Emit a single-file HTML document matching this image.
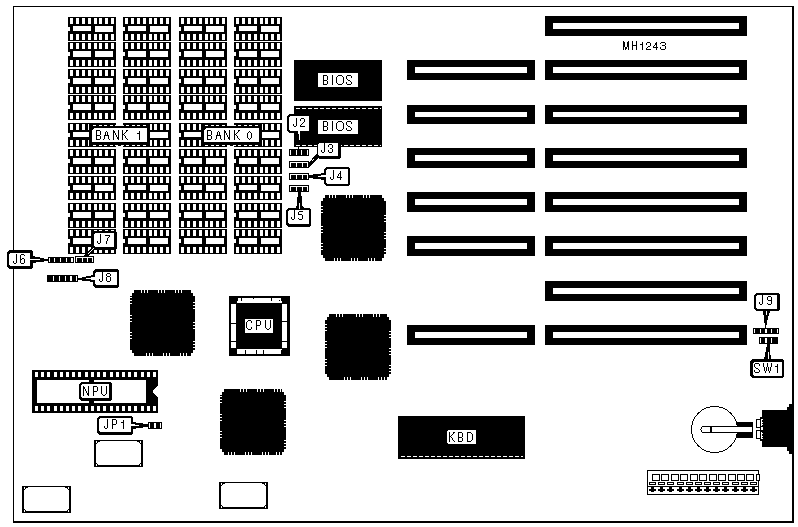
<!DOCTYPE html>
<html><head><meta charset="utf-8"><style>
html,body{margin:0;padding:0;background:#fff;width:798px;height:527px;overflow:hidden}
svg{display:block}
text{font-family:"Liberation Mono",monospace;fill:#000;filter:grayscale(1)}
</style></head><body>
<svg width="798" height="527" viewBox="0 0 798 527" shape-rendering="crispEdges" text-rendering="geometricPrecision">
<rect x="13" y="6" width="1" height="516" fill="#000"/>
<rect x="13" y="6" width="780" height="1" fill="#000"/>
<rect x="792" y="6" width="2" height="517" fill="#000"/>
<rect x="13" y="521" width="781" height="2" fill="#000"/>
<rect x="545" y="16" width="202" height="20" fill="#000"/>
<rect x="553" y="23" width="186" height="6" fill="#fff"/>
<rect x="545" y="60" width="202" height="20" fill="#000"/>
<rect x="553" y="67" width="186" height="6" fill="#fff"/>
<rect x="545" y="105" width="202" height="19" fill="#000"/>
<rect x="553" y="112" width="186" height="5" fill="#fff"/>
<rect x="545" y="148" width="202" height="20" fill="#000"/>
<rect x="553" y="155" width="186" height="6" fill="#fff"/>
<rect x="545" y="192" width="202" height="20" fill="#000"/>
<rect x="553" y="199" width="186" height="6" fill="#fff"/>
<rect x="545" y="236" width="202" height="20" fill="#000"/>
<rect x="553" y="243" width="186" height="6" fill="#fff"/>
<rect x="545" y="281" width="202" height="20" fill="#000"/>
<rect x="553" y="288" width="186" height="6" fill="#fff"/>
<rect x="545" y="325" width="202" height="20" fill="#000"/>
<rect x="553" y="332" width="186" height="6" fill="#fff"/>
<rect x="407" y="60" width="128" height="20" fill="#000"/>
<rect x="415" y="67" width="112" height="6" fill="#fff"/>
<rect x="407" y="105" width="128" height="19" fill="#000"/>
<rect x="415" y="112" width="112" height="5" fill="#fff"/>
<rect x="407" y="148" width="128" height="20" fill="#000"/>
<rect x="415" y="155" width="112" height="6" fill="#fff"/>
<rect x="407" y="192" width="128" height="20" fill="#000"/>
<rect x="415" y="199" width="112" height="6" fill="#fff"/>
<rect x="407" y="236" width="128" height="20" fill="#000"/>
<rect x="415" y="243" width="112" height="6" fill="#fff"/>
<rect x="407" y="325" width="128" height="20" fill="#000"/>
<rect x="415" y="332" width="112" height="6" fill="#fff"/>
<rect x="68" y="17" width="48" height="24" fill="#000"/>
<rect x="70" y="18" width="3" height="6" fill="#fff"/>
<rect x="70" y="34" width="3" height="6" fill="#fff"/>
<rect x="76" y="18" width="3" height="6" fill="#fff"/>
<rect x="76" y="34" width="3" height="6" fill="#fff"/>
<rect x="82" y="18" width="3" height="6" fill="#fff"/>
<rect x="82" y="34" width="3" height="6" fill="#fff"/>
<rect x="88" y="18" width="3" height="6" fill="#fff"/>
<rect x="88" y="34" width="3" height="6" fill="#fff"/>
<rect x="94" y="18" width="3" height="6" fill="#fff"/>
<rect x="94" y="34" width="3" height="6" fill="#fff"/>
<rect x="99" y="18" width="3" height="6" fill="#fff"/>
<rect x="99" y="34" width="3" height="6" fill="#fff"/>
<rect x="105" y="18" width="3" height="6" fill="#fff"/>
<rect x="105" y="34" width="3" height="6" fill="#fff"/>
<rect x="111" y="18" width="3" height="6" fill="#fff"/>
<rect x="111" y="34" width="3" height="6" fill="#fff"/>
<rect x="73" y="26" width="18" height="5" fill="#fff"/>
<rect x="95" y="26" width="18" height="6" fill="#fff"/>
<rect x="68" y="27" width="2" height="4" fill="#fff"/>
<rect x="68" y="42" width="48" height="25" fill="#000"/>
<rect x="70" y="43" width="3" height="6" fill="#fff"/>
<rect x="70" y="60" width="3" height="6" fill="#fff"/>
<rect x="76" y="43" width="3" height="6" fill="#fff"/>
<rect x="76" y="60" width="3" height="6" fill="#fff"/>
<rect x="82" y="43" width="3" height="6" fill="#fff"/>
<rect x="82" y="60" width="3" height="6" fill="#fff"/>
<rect x="88" y="43" width="3" height="6" fill="#fff"/>
<rect x="88" y="60" width="3" height="6" fill="#fff"/>
<rect x="94" y="43" width="3" height="6" fill="#fff"/>
<rect x="94" y="60" width="3" height="6" fill="#fff"/>
<rect x="99" y="43" width="3" height="6" fill="#fff"/>
<rect x="99" y="60" width="3" height="6" fill="#fff"/>
<rect x="105" y="43" width="3" height="6" fill="#fff"/>
<rect x="105" y="60" width="3" height="6" fill="#fff"/>
<rect x="111" y="43" width="3" height="6" fill="#fff"/>
<rect x="111" y="60" width="3" height="6" fill="#fff"/>
<rect x="73" y="51" width="18" height="6" fill="#fff"/>
<rect x="95" y="51" width="18" height="6" fill="#fff"/>
<rect x="68" y="52" width="2" height="4" fill="#fff"/>
<rect x="68" y="69" width="48" height="25" fill="#000"/>
<rect x="70" y="70" width="3" height="6" fill="#fff"/>
<rect x="70" y="87" width="3" height="6" fill="#fff"/>
<rect x="76" y="70" width="3" height="6" fill="#fff"/>
<rect x="76" y="87" width="3" height="6" fill="#fff"/>
<rect x="82" y="70" width="3" height="6" fill="#fff"/>
<rect x="82" y="87" width="3" height="6" fill="#fff"/>
<rect x="88" y="70" width="3" height="6" fill="#fff"/>
<rect x="88" y="87" width="3" height="6" fill="#fff"/>
<rect x="94" y="70" width="3" height="6" fill="#fff"/>
<rect x="94" y="87" width="3" height="6" fill="#fff"/>
<rect x="99" y="70" width="3" height="6" fill="#fff"/>
<rect x="99" y="87" width="3" height="6" fill="#fff"/>
<rect x="105" y="70" width="3" height="6" fill="#fff"/>
<rect x="105" y="87" width="3" height="6" fill="#fff"/>
<rect x="111" y="70" width="3" height="6" fill="#fff"/>
<rect x="111" y="87" width="3" height="6" fill="#fff"/>
<rect x="73" y="78" width="18" height="6" fill="#fff"/>
<rect x="95" y="78" width="18" height="6" fill="#fff"/>
<rect x="68" y="79" width="2" height="4" fill="#fff"/>
<rect x="68" y="95" width="48" height="25" fill="#000"/>
<rect x="70" y="96" width="3" height="6" fill="#fff"/>
<rect x="70" y="113" width="3" height="6" fill="#fff"/>
<rect x="76" y="96" width="3" height="6" fill="#fff"/>
<rect x="76" y="113" width="3" height="6" fill="#fff"/>
<rect x="82" y="96" width="3" height="6" fill="#fff"/>
<rect x="82" y="113" width="3" height="6" fill="#fff"/>
<rect x="88" y="96" width="3" height="6" fill="#fff"/>
<rect x="88" y="113" width="3" height="6" fill="#fff"/>
<rect x="94" y="96" width="3" height="6" fill="#fff"/>
<rect x="94" y="113" width="3" height="6" fill="#fff"/>
<rect x="99" y="96" width="3" height="6" fill="#fff"/>
<rect x="99" y="113" width="3" height="6" fill="#fff"/>
<rect x="105" y="96" width="3" height="6" fill="#fff"/>
<rect x="105" y="113" width="3" height="6" fill="#fff"/>
<rect x="111" y="96" width="3" height="6" fill="#fff"/>
<rect x="111" y="113" width="3" height="6" fill="#fff"/>
<rect x="73" y="104" width="18" height="6" fill="#fff"/>
<rect x="95" y="104" width="18" height="6" fill="#fff"/>
<rect x="68" y="105" width="2" height="4" fill="#fff"/>
<rect x="68" y="123" width="48" height="24" fill="#000"/>
<rect x="70" y="124" width="3" height="6" fill="#fff"/>
<rect x="70" y="140" width="3" height="6" fill="#fff"/>
<rect x="76" y="124" width="3" height="6" fill="#fff"/>
<rect x="76" y="140" width="3" height="6" fill="#fff"/>
<rect x="82" y="124" width="3" height="6" fill="#fff"/>
<rect x="82" y="140" width="3" height="6" fill="#fff"/>
<rect x="88" y="124" width="3" height="6" fill="#fff"/>
<rect x="88" y="140" width="3" height="6" fill="#fff"/>
<rect x="94" y="124" width="3" height="6" fill="#fff"/>
<rect x="94" y="140" width="3" height="6" fill="#fff"/>
<rect x="99" y="124" width="3" height="6" fill="#fff"/>
<rect x="99" y="140" width="3" height="6" fill="#fff"/>
<rect x="105" y="124" width="3" height="6" fill="#fff"/>
<rect x="105" y="140" width="3" height="6" fill="#fff"/>
<rect x="111" y="124" width="3" height="6" fill="#fff"/>
<rect x="111" y="140" width="3" height="6" fill="#fff"/>
<rect x="73" y="132" width="18" height="5" fill="#fff"/>
<rect x="95" y="132" width="18" height="6" fill="#fff"/>
<rect x="68" y="133" width="2" height="4" fill="#fff"/>
<rect x="68" y="149" width="48" height="25" fill="#000"/>
<rect x="70" y="150" width="3" height="6" fill="#fff"/>
<rect x="70" y="167" width="3" height="6" fill="#fff"/>
<rect x="76" y="150" width="3" height="6" fill="#fff"/>
<rect x="76" y="167" width="3" height="6" fill="#fff"/>
<rect x="82" y="150" width="3" height="6" fill="#fff"/>
<rect x="82" y="167" width="3" height="6" fill="#fff"/>
<rect x="88" y="150" width="3" height="6" fill="#fff"/>
<rect x="88" y="167" width="3" height="6" fill="#fff"/>
<rect x="94" y="150" width="3" height="6" fill="#fff"/>
<rect x="94" y="167" width="3" height="6" fill="#fff"/>
<rect x="99" y="150" width="3" height="6" fill="#fff"/>
<rect x="99" y="167" width="3" height="6" fill="#fff"/>
<rect x="105" y="150" width="3" height="6" fill="#fff"/>
<rect x="105" y="167" width="3" height="6" fill="#fff"/>
<rect x="111" y="150" width="3" height="6" fill="#fff"/>
<rect x="111" y="167" width="3" height="6" fill="#fff"/>
<rect x="73" y="158" width="18" height="6" fill="#fff"/>
<rect x="95" y="158" width="18" height="6" fill="#fff"/>
<rect x="68" y="159" width="2" height="4" fill="#fff"/>
<rect x="68" y="176" width="48" height="24" fill="#000"/>
<rect x="70" y="177" width="3" height="6" fill="#fff"/>
<rect x="70" y="193" width="3" height="6" fill="#fff"/>
<rect x="76" y="177" width="3" height="6" fill="#fff"/>
<rect x="76" y="193" width="3" height="6" fill="#fff"/>
<rect x="82" y="177" width="3" height="6" fill="#fff"/>
<rect x="82" y="193" width="3" height="6" fill="#fff"/>
<rect x="88" y="177" width="3" height="6" fill="#fff"/>
<rect x="88" y="193" width="3" height="6" fill="#fff"/>
<rect x="94" y="177" width="3" height="6" fill="#fff"/>
<rect x="94" y="193" width="3" height="6" fill="#fff"/>
<rect x="99" y="177" width="3" height="6" fill="#fff"/>
<rect x="99" y="193" width="3" height="6" fill="#fff"/>
<rect x="105" y="177" width="3" height="6" fill="#fff"/>
<rect x="105" y="193" width="3" height="6" fill="#fff"/>
<rect x="111" y="177" width="3" height="6" fill="#fff"/>
<rect x="111" y="193" width="3" height="6" fill="#fff"/>
<rect x="73" y="185" width="18" height="5" fill="#fff"/>
<rect x="95" y="185" width="18" height="6" fill="#fff"/>
<rect x="68" y="186" width="2" height="4" fill="#fff"/>
<rect x="68" y="203" width="48" height="25" fill="#000"/>
<rect x="70" y="204" width="3" height="6" fill="#fff"/>
<rect x="70" y="221" width="3" height="6" fill="#fff"/>
<rect x="76" y="204" width="3" height="6" fill="#fff"/>
<rect x="76" y="221" width="3" height="6" fill="#fff"/>
<rect x="82" y="204" width="3" height="6" fill="#fff"/>
<rect x="82" y="221" width="3" height="6" fill="#fff"/>
<rect x="88" y="204" width="3" height="6" fill="#fff"/>
<rect x="88" y="221" width="3" height="6" fill="#fff"/>
<rect x="94" y="204" width="3" height="6" fill="#fff"/>
<rect x="94" y="221" width="3" height="6" fill="#fff"/>
<rect x="99" y="204" width="3" height="6" fill="#fff"/>
<rect x="99" y="221" width="3" height="6" fill="#fff"/>
<rect x="105" y="204" width="3" height="6" fill="#fff"/>
<rect x="105" y="221" width="3" height="6" fill="#fff"/>
<rect x="111" y="204" width="3" height="6" fill="#fff"/>
<rect x="111" y="221" width="3" height="6" fill="#fff"/>
<rect x="73" y="212" width="18" height="6" fill="#fff"/>
<rect x="95" y="212" width="18" height="6" fill="#fff"/>
<rect x="68" y="213" width="2" height="4" fill="#fff"/>
<rect x="68" y="229" width="48" height="25" fill="#000"/>
<rect x="70" y="230" width="3" height="6" fill="#fff"/>
<rect x="70" y="247" width="3" height="6" fill="#fff"/>
<rect x="76" y="230" width="3" height="6" fill="#fff"/>
<rect x="76" y="247" width="3" height="6" fill="#fff"/>
<rect x="82" y="230" width="3" height="6" fill="#fff"/>
<rect x="82" y="247" width="3" height="6" fill="#fff"/>
<rect x="88" y="230" width="3" height="6" fill="#fff"/>
<rect x="88" y="247" width="3" height="6" fill="#fff"/>
<rect x="94" y="230" width="3" height="6" fill="#fff"/>
<rect x="94" y="247" width="3" height="6" fill="#fff"/>
<rect x="99" y="230" width="3" height="6" fill="#fff"/>
<rect x="99" y="247" width="3" height="6" fill="#fff"/>
<rect x="105" y="230" width="3" height="6" fill="#fff"/>
<rect x="105" y="247" width="3" height="6" fill="#fff"/>
<rect x="111" y="230" width="3" height="6" fill="#fff"/>
<rect x="111" y="247" width="3" height="6" fill="#fff"/>
<rect x="73" y="238" width="18" height="6" fill="#fff"/>
<rect x="95" y="238" width="18" height="6" fill="#fff"/>
<rect x="68" y="239" width="2" height="4" fill="#fff"/>
<rect x="123" y="17" width="48" height="24" fill="#000"/>
<rect x="125" y="18" width="3" height="6" fill="#fff"/>
<rect x="125" y="34" width="3" height="6" fill="#fff"/>
<rect x="131" y="18" width="3" height="6" fill="#fff"/>
<rect x="131" y="34" width="3" height="6" fill="#fff"/>
<rect x="137" y="18" width="3" height="6" fill="#fff"/>
<rect x="137" y="34" width="3" height="6" fill="#fff"/>
<rect x="143" y="18" width="3" height="6" fill="#fff"/>
<rect x="143" y="34" width="3" height="6" fill="#fff"/>
<rect x="149" y="18" width="3" height="6" fill="#fff"/>
<rect x="149" y="34" width="3" height="6" fill="#fff"/>
<rect x="154" y="18" width="3" height="6" fill="#fff"/>
<rect x="154" y="34" width="3" height="6" fill="#fff"/>
<rect x="160" y="18" width="3" height="6" fill="#fff"/>
<rect x="160" y="34" width="3" height="6" fill="#fff"/>
<rect x="166" y="18" width="3" height="6" fill="#fff"/>
<rect x="166" y="34" width="3" height="6" fill="#fff"/>
<rect x="128" y="26" width="18" height="5" fill="#fff"/>
<rect x="150" y="26" width="18" height="6" fill="#fff"/>
<rect x="123" y="27" width="2" height="4" fill="#fff"/>
<rect x="123" y="42" width="48" height="25" fill="#000"/>
<rect x="125" y="43" width="3" height="6" fill="#fff"/>
<rect x="125" y="60" width="3" height="6" fill="#fff"/>
<rect x="131" y="43" width="3" height="6" fill="#fff"/>
<rect x="131" y="60" width="3" height="6" fill="#fff"/>
<rect x="137" y="43" width="3" height="6" fill="#fff"/>
<rect x="137" y="60" width="3" height="6" fill="#fff"/>
<rect x="143" y="43" width="3" height="6" fill="#fff"/>
<rect x="143" y="60" width="3" height="6" fill="#fff"/>
<rect x="149" y="43" width="3" height="6" fill="#fff"/>
<rect x="149" y="60" width="3" height="6" fill="#fff"/>
<rect x="154" y="43" width="3" height="6" fill="#fff"/>
<rect x="154" y="60" width="3" height="6" fill="#fff"/>
<rect x="160" y="43" width="3" height="6" fill="#fff"/>
<rect x="160" y="60" width="3" height="6" fill="#fff"/>
<rect x="166" y="43" width="3" height="6" fill="#fff"/>
<rect x="166" y="60" width="3" height="6" fill="#fff"/>
<rect x="128" y="51" width="18" height="6" fill="#fff"/>
<rect x="150" y="51" width="18" height="6" fill="#fff"/>
<rect x="123" y="52" width="2" height="4" fill="#fff"/>
<rect x="123" y="69" width="48" height="25" fill="#000"/>
<rect x="125" y="70" width="3" height="6" fill="#fff"/>
<rect x="125" y="87" width="3" height="6" fill="#fff"/>
<rect x="131" y="70" width="3" height="6" fill="#fff"/>
<rect x="131" y="87" width="3" height="6" fill="#fff"/>
<rect x="137" y="70" width="3" height="6" fill="#fff"/>
<rect x="137" y="87" width="3" height="6" fill="#fff"/>
<rect x="143" y="70" width="3" height="6" fill="#fff"/>
<rect x="143" y="87" width="3" height="6" fill="#fff"/>
<rect x="149" y="70" width="3" height="6" fill="#fff"/>
<rect x="149" y="87" width="3" height="6" fill="#fff"/>
<rect x="154" y="70" width="3" height="6" fill="#fff"/>
<rect x="154" y="87" width="3" height="6" fill="#fff"/>
<rect x="160" y="70" width="3" height="6" fill="#fff"/>
<rect x="160" y="87" width="3" height="6" fill="#fff"/>
<rect x="166" y="70" width="3" height="6" fill="#fff"/>
<rect x="166" y="87" width="3" height="6" fill="#fff"/>
<rect x="128" y="78" width="18" height="6" fill="#fff"/>
<rect x="150" y="78" width="18" height="6" fill="#fff"/>
<rect x="123" y="79" width="2" height="4" fill="#fff"/>
<rect x="123" y="95" width="48" height="25" fill="#000"/>
<rect x="125" y="96" width="3" height="6" fill="#fff"/>
<rect x="125" y="113" width="3" height="6" fill="#fff"/>
<rect x="131" y="96" width="3" height="6" fill="#fff"/>
<rect x="131" y="113" width="3" height="6" fill="#fff"/>
<rect x="137" y="96" width="3" height="6" fill="#fff"/>
<rect x="137" y="113" width="3" height="6" fill="#fff"/>
<rect x="143" y="96" width="3" height="6" fill="#fff"/>
<rect x="143" y="113" width="3" height="6" fill="#fff"/>
<rect x="149" y="96" width="3" height="6" fill="#fff"/>
<rect x="149" y="113" width="3" height="6" fill="#fff"/>
<rect x="154" y="96" width="3" height="6" fill="#fff"/>
<rect x="154" y="113" width="3" height="6" fill="#fff"/>
<rect x="160" y="96" width="3" height="6" fill="#fff"/>
<rect x="160" y="113" width="3" height="6" fill="#fff"/>
<rect x="166" y="96" width="3" height="6" fill="#fff"/>
<rect x="166" y="113" width="3" height="6" fill="#fff"/>
<rect x="128" y="104" width="18" height="6" fill="#fff"/>
<rect x="150" y="104" width="18" height="6" fill="#fff"/>
<rect x="123" y="105" width="2" height="4" fill="#fff"/>
<rect x="123" y="123" width="48" height="24" fill="#000"/>
<rect x="125" y="124" width="3" height="6" fill="#fff"/>
<rect x="125" y="140" width="3" height="6" fill="#fff"/>
<rect x="131" y="124" width="3" height="6" fill="#fff"/>
<rect x="131" y="140" width="3" height="6" fill="#fff"/>
<rect x="137" y="124" width="3" height="6" fill="#fff"/>
<rect x="137" y="140" width="3" height="6" fill="#fff"/>
<rect x="143" y="124" width="3" height="6" fill="#fff"/>
<rect x="143" y="140" width="3" height="6" fill="#fff"/>
<rect x="149" y="124" width="3" height="6" fill="#fff"/>
<rect x="149" y="140" width="3" height="6" fill="#fff"/>
<rect x="154" y="124" width="3" height="6" fill="#fff"/>
<rect x="154" y="140" width="3" height="6" fill="#fff"/>
<rect x="160" y="124" width="3" height="6" fill="#fff"/>
<rect x="160" y="140" width="3" height="6" fill="#fff"/>
<rect x="166" y="124" width="3" height="6" fill="#fff"/>
<rect x="166" y="140" width="3" height="6" fill="#fff"/>
<rect x="128" y="132" width="18" height="5" fill="#fff"/>
<rect x="150" y="132" width="18" height="6" fill="#fff"/>
<rect x="123" y="133" width="2" height="4" fill="#fff"/>
<rect x="123" y="149" width="48" height="25" fill="#000"/>
<rect x="125" y="150" width="3" height="6" fill="#fff"/>
<rect x="125" y="167" width="3" height="6" fill="#fff"/>
<rect x="131" y="150" width="3" height="6" fill="#fff"/>
<rect x="131" y="167" width="3" height="6" fill="#fff"/>
<rect x="137" y="150" width="3" height="6" fill="#fff"/>
<rect x="137" y="167" width="3" height="6" fill="#fff"/>
<rect x="143" y="150" width="3" height="6" fill="#fff"/>
<rect x="143" y="167" width="3" height="6" fill="#fff"/>
<rect x="149" y="150" width="3" height="6" fill="#fff"/>
<rect x="149" y="167" width="3" height="6" fill="#fff"/>
<rect x="154" y="150" width="3" height="6" fill="#fff"/>
<rect x="154" y="167" width="3" height="6" fill="#fff"/>
<rect x="160" y="150" width="3" height="6" fill="#fff"/>
<rect x="160" y="167" width="3" height="6" fill="#fff"/>
<rect x="166" y="150" width="3" height="6" fill="#fff"/>
<rect x="166" y="167" width="3" height="6" fill="#fff"/>
<rect x="128" y="158" width="18" height="6" fill="#fff"/>
<rect x="150" y="158" width="18" height="6" fill="#fff"/>
<rect x="123" y="159" width="2" height="4" fill="#fff"/>
<rect x="123" y="176" width="48" height="24" fill="#000"/>
<rect x="125" y="177" width="3" height="6" fill="#fff"/>
<rect x="125" y="193" width="3" height="6" fill="#fff"/>
<rect x="131" y="177" width="3" height="6" fill="#fff"/>
<rect x="131" y="193" width="3" height="6" fill="#fff"/>
<rect x="137" y="177" width="3" height="6" fill="#fff"/>
<rect x="137" y="193" width="3" height="6" fill="#fff"/>
<rect x="143" y="177" width="3" height="6" fill="#fff"/>
<rect x="143" y="193" width="3" height="6" fill="#fff"/>
<rect x="149" y="177" width="3" height="6" fill="#fff"/>
<rect x="149" y="193" width="3" height="6" fill="#fff"/>
<rect x="154" y="177" width="3" height="6" fill="#fff"/>
<rect x="154" y="193" width="3" height="6" fill="#fff"/>
<rect x="160" y="177" width="3" height="6" fill="#fff"/>
<rect x="160" y="193" width="3" height="6" fill="#fff"/>
<rect x="166" y="177" width="3" height="6" fill="#fff"/>
<rect x="166" y="193" width="3" height="6" fill="#fff"/>
<rect x="128" y="185" width="18" height="5" fill="#fff"/>
<rect x="150" y="185" width="18" height="6" fill="#fff"/>
<rect x="123" y="186" width="2" height="4" fill="#fff"/>
<rect x="123" y="203" width="48" height="25" fill="#000"/>
<rect x="125" y="204" width="3" height="6" fill="#fff"/>
<rect x="125" y="221" width="3" height="6" fill="#fff"/>
<rect x="131" y="204" width="3" height="6" fill="#fff"/>
<rect x="131" y="221" width="3" height="6" fill="#fff"/>
<rect x="137" y="204" width="3" height="6" fill="#fff"/>
<rect x="137" y="221" width="3" height="6" fill="#fff"/>
<rect x="143" y="204" width="3" height="6" fill="#fff"/>
<rect x="143" y="221" width="3" height="6" fill="#fff"/>
<rect x="149" y="204" width="3" height="6" fill="#fff"/>
<rect x="149" y="221" width="3" height="6" fill="#fff"/>
<rect x="154" y="204" width="3" height="6" fill="#fff"/>
<rect x="154" y="221" width="3" height="6" fill="#fff"/>
<rect x="160" y="204" width="3" height="6" fill="#fff"/>
<rect x="160" y="221" width="3" height="6" fill="#fff"/>
<rect x="166" y="204" width="3" height="6" fill="#fff"/>
<rect x="166" y="221" width="3" height="6" fill="#fff"/>
<rect x="128" y="212" width="18" height="6" fill="#fff"/>
<rect x="150" y="212" width="18" height="6" fill="#fff"/>
<rect x="123" y="213" width="2" height="4" fill="#fff"/>
<rect x="123" y="229" width="48" height="25" fill="#000"/>
<rect x="125" y="230" width="3" height="6" fill="#fff"/>
<rect x="125" y="247" width="3" height="6" fill="#fff"/>
<rect x="131" y="230" width="3" height="6" fill="#fff"/>
<rect x="131" y="247" width="3" height="6" fill="#fff"/>
<rect x="137" y="230" width="3" height="6" fill="#fff"/>
<rect x="137" y="247" width="3" height="6" fill="#fff"/>
<rect x="143" y="230" width="3" height="6" fill="#fff"/>
<rect x="143" y="247" width="3" height="6" fill="#fff"/>
<rect x="149" y="230" width="3" height="6" fill="#fff"/>
<rect x="149" y="247" width="3" height="6" fill="#fff"/>
<rect x="154" y="230" width="3" height="6" fill="#fff"/>
<rect x="154" y="247" width="3" height="6" fill="#fff"/>
<rect x="160" y="230" width="3" height="6" fill="#fff"/>
<rect x="160" y="247" width="3" height="6" fill="#fff"/>
<rect x="166" y="230" width="3" height="6" fill="#fff"/>
<rect x="166" y="247" width="3" height="6" fill="#fff"/>
<rect x="128" y="238" width="18" height="6" fill="#fff"/>
<rect x="150" y="238" width="18" height="6" fill="#fff"/>
<rect x="123" y="239" width="2" height="4" fill="#fff"/>
<rect x="179" y="17" width="48" height="24" fill="#000"/>
<rect x="181" y="18" width="3" height="6" fill="#fff"/>
<rect x="181" y="34" width="3" height="6" fill="#fff"/>
<rect x="187" y="18" width="3" height="6" fill="#fff"/>
<rect x="187" y="34" width="3" height="6" fill="#fff"/>
<rect x="193" y="18" width="3" height="6" fill="#fff"/>
<rect x="193" y="34" width="3" height="6" fill="#fff"/>
<rect x="199" y="18" width="3" height="6" fill="#fff"/>
<rect x="199" y="34" width="3" height="6" fill="#fff"/>
<rect x="205" y="18" width="3" height="6" fill="#fff"/>
<rect x="205" y="34" width="3" height="6" fill="#fff"/>
<rect x="210" y="18" width="3" height="6" fill="#fff"/>
<rect x="210" y="34" width="3" height="6" fill="#fff"/>
<rect x="216" y="18" width="3" height="6" fill="#fff"/>
<rect x="216" y="34" width="3" height="6" fill="#fff"/>
<rect x="222" y="18" width="3" height="6" fill="#fff"/>
<rect x="222" y="34" width="3" height="6" fill="#fff"/>
<rect x="184" y="26" width="18" height="5" fill="#fff"/>
<rect x="206" y="26" width="18" height="6" fill="#fff"/>
<rect x="179" y="27" width="2" height="4" fill="#fff"/>
<rect x="179" y="42" width="48" height="25" fill="#000"/>
<rect x="181" y="43" width="3" height="6" fill="#fff"/>
<rect x="181" y="60" width="3" height="6" fill="#fff"/>
<rect x="187" y="43" width="3" height="6" fill="#fff"/>
<rect x="187" y="60" width="3" height="6" fill="#fff"/>
<rect x="193" y="43" width="3" height="6" fill="#fff"/>
<rect x="193" y="60" width="3" height="6" fill="#fff"/>
<rect x="199" y="43" width="3" height="6" fill="#fff"/>
<rect x="199" y="60" width="3" height="6" fill="#fff"/>
<rect x="205" y="43" width="3" height="6" fill="#fff"/>
<rect x="205" y="60" width="3" height="6" fill="#fff"/>
<rect x="210" y="43" width="3" height="6" fill="#fff"/>
<rect x="210" y="60" width="3" height="6" fill="#fff"/>
<rect x="216" y="43" width="3" height="6" fill="#fff"/>
<rect x="216" y="60" width="3" height="6" fill="#fff"/>
<rect x="222" y="43" width="3" height="6" fill="#fff"/>
<rect x="222" y="60" width="3" height="6" fill="#fff"/>
<rect x="184" y="51" width="18" height="6" fill="#fff"/>
<rect x="206" y="51" width="18" height="6" fill="#fff"/>
<rect x="179" y="52" width="2" height="4" fill="#fff"/>
<rect x="179" y="69" width="48" height="25" fill="#000"/>
<rect x="181" y="70" width="3" height="6" fill="#fff"/>
<rect x="181" y="87" width="3" height="6" fill="#fff"/>
<rect x="187" y="70" width="3" height="6" fill="#fff"/>
<rect x="187" y="87" width="3" height="6" fill="#fff"/>
<rect x="193" y="70" width="3" height="6" fill="#fff"/>
<rect x="193" y="87" width="3" height="6" fill="#fff"/>
<rect x="199" y="70" width="3" height="6" fill="#fff"/>
<rect x="199" y="87" width="3" height="6" fill="#fff"/>
<rect x="205" y="70" width="3" height="6" fill="#fff"/>
<rect x="205" y="87" width="3" height="6" fill="#fff"/>
<rect x="210" y="70" width="3" height="6" fill="#fff"/>
<rect x="210" y="87" width="3" height="6" fill="#fff"/>
<rect x="216" y="70" width="3" height="6" fill="#fff"/>
<rect x="216" y="87" width="3" height="6" fill="#fff"/>
<rect x="222" y="70" width="3" height="6" fill="#fff"/>
<rect x="222" y="87" width="3" height="6" fill="#fff"/>
<rect x="184" y="78" width="18" height="6" fill="#fff"/>
<rect x="206" y="78" width="18" height="6" fill="#fff"/>
<rect x="179" y="79" width="2" height="4" fill="#fff"/>
<rect x="179" y="95" width="48" height="25" fill="#000"/>
<rect x="181" y="96" width="3" height="6" fill="#fff"/>
<rect x="181" y="113" width="3" height="6" fill="#fff"/>
<rect x="187" y="96" width="3" height="6" fill="#fff"/>
<rect x="187" y="113" width="3" height="6" fill="#fff"/>
<rect x="193" y="96" width="3" height="6" fill="#fff"/>
<rect x="193" y="113" width="3" height="6" fill="#fff"/>
<rect x="199" y="96" width="3" height="6" fill="#fff"/>
<rect x="199" y="113" width="3" height="6" fill="#fff"/>
<rect x="205" y="96" width="3" height="6" fill="#fff"/>
<rect x="205" y="113" width="3" height="6" fill="#fff"/>
<rect x="210" y="96" width="3" height="6" fill="#fff"/>
<rect x="210" y="113" width="3" height="6" fill="#fff"/>
<rect x="216" y="96" width="3" height="6" fill="#fff"/>
<rect x="216" y="113" width="3" height="6" fill="#fff"/>
<rect x="222" y="96" width="3" height="6" fill="#fff"/>
<rect x="222" y="113" width="3" height="6" fill="#fff"/>
<rect x="184" y="104" width="18" height="6" fill="#fff"/>
<rect x="206" y="104" width="18" height="6" fill="#fff"/>
<rect x="179" y="105" width="2" height="4" fill="#fff"/>
<rect x="179" y="123" width="48" height="24" fill="#000"/>
<rect x="181" y="124" width="3" height="6" fill="#fff"/>
<rect x="181" y="140" width="3" height="6" fill="#fff"/>
<rect x="187" y="124" width="3" height="6" fill="#fff"/>
<rect x="187" y="140" width="3" height="6" fill="#fff"/>
<rect x="193" y="124" width="3" height="6" fill="#fff"/>
<rect x="193" y="140" width="3" height="6" fill="#fff"/>
<rect x="199" y="124" width="3" height="6" fill="#fff"/>
<rect x="199" y="140" width="3" height="6" fill="#fff"/>
<rect x="205" y="124" width="3" height="6" fill="#fff"/>
<rect x="205" y="140" width="3" height="6" fill="#fff"/>
<rect x="210" y="124" width="3" height="6" fill="#fff"/>
<rect x="210" y="140" width="3" height="6" fill="#fff"/>
<rect x="216" y="124" width="3" height="6" fill="#fff"/>
<rect x="216" y="140" width="3" height="6" fill="#fff"/>
<rect x="222" y="124" width="3" height="6" fill="#fff"/>
<rect x="222" y="140" width="3" height="6" fill="#fff"/>
<rect x="184" y="132" width="18" height="5" fill="#fff"/>
<rect x="206" y="132" width="18" height="6" fill="#fff"/>
<rect x="179" y="133" width="2" height="4" fill="#fff"/>
<rect x="179" y="149" width="48" height="25" fill="#000"/>
<rect x="181" y="150" width="3" height="6" fill="#fff"/>
<rect x="181" y="167" width="3" height="6" fill="#fff"/>
<rect x="187" y="150" width="3" height="6" fill="#fff"/>
<rect x="187" y="167" width="3" height="6" fill="#fff"/>
<rect x="193" y="150" width="3" height="6" fill="#fff"/>
<rect x="193" y="167" width="3" height="6" fill="#fff"/>
<rect x="199" y="150" width="3" height="6" fill="#fff"/>
<rect x="199" y="167" width="3" height="6" fill="#fff"/>
<rect x="205" y="150" width="3" height="6" fill="#fff"/>
<rect x="205" y="167" width="3" height="6" fill="#fff"/>
<rect x="210" y="150" width="3" height="6" fill="#fff"/>
<rect x="210" y="167" width="3" height="6" fill="#fff"/>
<rect x="216" y="150" width="3" height="6" fill="#fff"/>
<rect x="216" y="167" width="3" height="6" fill="#fff"/>
<rect x="222" y="150" width="3" height="6" fill="#fff"/>
<rect x="222" y="167" width="3" height="6" fill="#fff"/>
<rect x="184" y="158" width="18" height="6" fill="#fff"/>
<rect x="206" y="158" width="18" height="6" fill="#fff"/>
<rect x="179" y="159" width="2" height="4" fill="#fff"/>
<rect x="179" y="176" width="48" height="24" fill="#000"/>
<rect x="181" y="177" width="3" height="6" fill="#fff"/>
<rect x="181" y="193" width="3" height="6" fill="#fff"/>
<rect x="187" y="177" width="3" height="6" fill="#fff"/>
<rect x="187" y="193" width="3" height="6" fill="#fff"/>
<rect x="193" y="177" width="3" height="6" fill="#fff"/>
<rect x="193" y="193" width="3" height="6" fill="#fff"/>
<rect x="199" y="177" width="3" height="6" fill="#fff"/>
<rect x="199" y="193" width="3" height="6" fill="#fff"/>
<rect x="205" y="177" width="3" height="6" fill="#fff"/>
<rect x="205" y="193" width="3" height="6" fill="#fff"/>
<rect x="210" y="177" width="3" height="6" fill="#fff"/>
<rect x="210" y="193" width="3" height="6" fill="#fff"/>
<rect x="216" y="177" width="3" height="6" fill="#fff"/>
<rect x="216" y="193" width="3" height="6" fill="#fff"/>
<rect x="222" y="177" width="3" height="6" fill="#fff"/>
<rect x="222" y="193" width="3" height="6" fill="#fff"/>
<rect x="184" y="185" width="18" height="5" fill="#fff"/>
<rect x="206" y="185" width="18" height="6" fill="#fff"/>
<rect x="179" y="186" width="2" height="4" fill="#fff"/>
<rect x="179" y="203" width="48" height="25" fill="#000"/>
<rect x="181" y="204" width="3" height="6" fill="#fff"/>
<rect x="181" y="221" width="3" height="6" fill="#fff"/>
<rect x="187" y="204" width="3" height="6" fill="#fff"/>
<rect x="187" y="221" width="3" height="6" fill="#fff"/>
<rect x="193" y="204" width="3" height="6" fill="#fff"/>
<rect x="193" y="221" width="3" height="6" fill="#fff"/>
<rect x="199" y="204" width="3" height="6" fill="#fff"/>
<rect x="199" y="221" width="3" height="6" fill="#fff"/>
<rect x="205" y="204" width="3" height="6" fill="#fff"/>
<rect x="205" y="221" width="3" height="6" fill="#fff"/>
<rect x="210" y="204" width="3" height="6" fill="#fff"/>
<rect x="210" y="221" width="3" height="6" fill="#fff"/>
<rect x="216" y="204" width="3" height="6" fill="#fff"/>
<rect x="216" y="221" width="3" height="6" fill="#fff"/>
<rect x="222" y="204" width="3" height="6" fill="#fff"/>
<rect x="222" y="221" width="3" height="6" fill="#fff"/>
<rect x="184" y="212" width="18" height="6" fill="#fff"/>
<rect x="206" y="212" width="18" height="6" fill="#fff"/>
<rect x="179" y="213" width="2" height="4" fill="#fff"/>
<rect x="179" y="229" width="48" height="25" fill="#000"/>
<rect x="181" y="230" width="3" height="6" fill="#fff"/>
<rect x="181" y="247" width="3" height="6" fill="#fff"/>
<rect x="187" y="230" width="3" height="6" fill="#fff"/>
<rect x="187" y="247" width="3" height="6" fill="#fff"/>
<rect x="193" y="230" width="3" height="6" fill="#fff"/>
<rect x="193" y="247" width="3" height="6" fill="#fff"/>
<rect x="199" y="230" width="3" height="6" fill="#fff"/>
<rect x="199" y="247" width="3" height="6" fill="#fff"/>
<rect x="205" y="230" width="3" height="6" fill="#fff"/>
<rect x="205" y="247" width="3" height="6" fill="#fff"/>
<rect x="210" y="230" width="3" height="6" fill="#fff"/>
<rect x="210" y="247" width="3" height="6" fill="#fff"/>
<rect x="216" y="230" width="3" height="6" fill="#fff"/>
<rect x="216" y="247" width="3" height="6" fill="#fff"/>
<rect x="222" y="230" width="3" height="6" fill="#fff"/>
<rect x="222" y="247" width="3" height="6" fill="#fff"/>
<rect x="184" y="238" width="18" height="6" fill="#fff"/>
<rect x="206" y="238" width="18" height="6" fill="#fff"/>
<rect x="179" y="239" width="2" height="4" fill="#fff"/>
<rect x="234" y="17" width="48" height="24" fill="#000"/>
<rect x="236" y="18" width="3" height="6" fill="#fff"/>
<rect x="236" y="34" width="3" height="6" fill="#fff"/>
<rect x="242" y="18" width="3" height="6" fill="#fff"/>
<rect x="242" y="34" width="3" height="6" fill="#fff"/>
<rect x="248" y="18" width="3" height="6" fill="#fff"/>
<rect x="248" y="34" width="3" height="6" fill="#fff"/>
<rect x="254" y="18" width="3" height="6" fill="#fff"/>
<rect x="254" y="34" width="3" height="6" fill="#fff"/>
<rect x="260" y="18" width="3" height="6" fill="#fff"/>
<rect x="260" y="34" width="3" height="6" fill="#fff"/>
<rect x="265" y="18" width="3" height="6" fill="#fff"/>
<rect x="265" y="34" width="3" height="6" fill="#fff"/>
<rect x="271" y="18" width="3" height="6" fill="#fff"/>
<rect x="271" y="34" width="3" height="6" fill="#fff"/>
<rect x="277" y="18" width="3" height="6" fill="#fff"/>
<rect x="277" y="34" width="3" height="6" fill="#fff"/>
<rect x="239" y="26" width="18" height="5" fill="#fff"/>
<rect x="261" y="26" width="18" height="6" fill="#fff"/>
<rect x="234" y="27" width="2" height="4" fill="#fff"/>
<rect x="234" y="42" width="48" height="25" fill="#000"/>
<rect x="236" y="43" width="3" height="6" fill="#fff"/>
<rect x="236" y="60" width="3" height="6" fill="#fff"/>
<rect x="242" y="43" width="3" height="6" fill="#fff"/>
<rect x="242" y="60" width="3" height="6" fill="#fff"/>
<rect x="248" y="43" width="3" height="6" fill="#fff"/>
<rect x="248" y="60" width="3" height="6" fill="#fff"/>
<rect x="254" y="43" width="3" height="6" fill="#fff"/>
<rect x="254" y="60" width="3" height="6" fill="#fff"/>
<rect x="260" y="43" width="3" height="6" fill="#fff"/>
<rect x="260" y="60" width="3" height="6" fill="#fff"/>
<rect x="265" y="43" width="3" height="6" fill="#fff"/>
<rect x="265" y="60" width="3" height="6" fill="#fff"/>
<rect x="271" y="43" width="3" height="6" fill="#fff"/>
<rect x="271" y="60" width="3" height="6" fill="#fff"/>
<rect x="277" y="43" width="3" height="6" fill="#fff"/>
<rect x="277" y="60" width="3" height="6" fill="#fff"/>
<rect x="239" y="51" width="18" height="6" fill="#fff"/>
<rect x="261" y="51" width="18" height="6" fill="#fff"/>
<rect x="234" y="52" width="2" height="4" fill="#fff"/>
<rect x="234" y="69" width="48" height="25" fill="#000"/>
<rect x="236" y="70" width="3" height="6" fill="#fff"/>
<rect x="236" y="87" width="3" height="6" fill="#fff"/>
<rect x="242" y="70" width="3" height="6" fill="#fff"/>
<rect x="242" y="87" width="3" height="6" fill="#fff"/>
<rect x="248" y="70" width="3" height="6" fill="#fff"/>
<rect x="248" y="87" width="3" height="6" fill="#fff"/>
<rect x="254" y="70" width="3" height="6" fill="#fff"/>
<rect x="254" y="87" width="3" height="6" fill="#fff"/>
<rect x="260" y="70" width="3" height="6" fill="#fff"/>
<rect x="260" y="87" width="3" height="6" fill="#fff"/>
<rect x="265" y="70" width="3" height="6" fill="#fff"/>
<rect x="265" y="87" width="3" height="6" fill="#fff"/>
<rect x="271" y="70" width="3" height="6" fill="#fff"/>
<rect x="271" y="87" width="3" height="6" fill="#fff"/>
<rect x="277" y="70" width="3" height="6" fill="#fff"/>
<rect x="277" y="87" width="3" height="6" fill="#fff"/>
<rect x="239" y="78" width="18" height="6" fill="#fff"/>
<rect x="261" y="78" width="18" height="6" fill="#fff"/>
<rect x="234" y="79" width="2" height="4" fill="#fff"/>
<rect x="234" y="95" width="48" height="25" fill="#000"/>
<rect x="236" y="96" width="3" height="6" fill="#fff"/>
<rect x="236" y="113" width="3" height="6" fill="#fff"/>
<rect x="242" y="96" width="3" height="6" fill="#fff"/>
<rect x="242" y="113" width="3" height="6" fill="#fff"/>
<rect x="248" y="96" width="3" height="6" fill="#fff"/>
<rect x="248" y="113" width="3" height="6" fill="#fff"/>
<rect x="254" y="96" width="3" height="6" fill="#fff"/>
<rect x="254" y="113" width="3" height="6" fill="#fff"/>
<rect x="260" y="96" width="3" height="6" fill="#fff"/>
<rect x="260" y="113" width="3" height="6" fill="#fff"/>
<rect x="265" y="96" width="3" height="6" fill="#fff"/>
<rect x="265" y="113" width="3" height="6" fill="#fff"/>
<rect x="271" y="96" width="3" height="6" fill="#fff"/>
<rect x="271" y="113" width="3" height="6" fill="#fff"/>
<rect x="277" y="96" width="3" height="6" fill="#fff"/>
<rect x="277" y="113" width="3" height="6" fill="#fff"/>
<rect x="239" y="104" width="18" height="6" fill="#fff"/>
<rect x="261" y="104" width="18" height="6" fill="#fff"/>
<rect x="234" y="105" width="2" height="4" fill="#fff"/>
<rect x="234" y="123" width="48" height="24" fill="#000"/>
<rect x="236" y="124" width="3" height="6" fill="#fff"/>
<rect x="236" y="140" width="3" height="6" fill="#fff"/>
<rect x="242" y="124" width="3" height="6" fill="#fff"/>
<rect x="242" y="140" width="3" height="6" fill="#fff"/>
<rect x="248" y="124" width="3" height="6" fill="#fff"/>
<rect x="248" y="140" width="3" height="6" fill="#fff"/>
<rect x="254" y="124" width="3" height="6" fill="#fff"/>
<rect x="254" y="140" width="3" height="6" fill="#fff"/>
<rect x="260" y="124" width="3" height="6" fill="#fff"/>
<rect x="260" y="140" width="3" height="6" fill="#fff"/>
<rect x="265" y="124" width="3" height="6" fill="#fff"/>
<rect x="265" y="140" width="3" height="6" fill="#fff"/>
<rect x="271" y="124" width="3" height="6" fill="#fff"/>
<rect x="271" y="140" width="3" height="6" fill="#fff"/>
<rect x="277" y="124" width="3" height="6" fill="#fff"/>
<rect x="277" y="140" width="3" height="6" fill="#fff"/>
<rect x="239" y="132" width="18" height="5" fill="#fff"/>
<rect x="261" y="132" width="18" height="6" fill="#fff"/>
<rect x="234" y="133" width="2" height="4" fill="#fff"/>
<rect x="234" y="149" width="48" height="25" fill="#000"/>
<rect x="236" y="150" width="3" height="6" fill="#fff"/>
<rect x="236" y="167" width="3" height="6" fill="#fff"/>
<rect x="242" y="150" width="3" height="6" fill="#fff"/>
<rect x="242" y="167" width="3" height="6" fill="#fff"/>
<rect x="248" y="150" width="3" height="6" fill="#fff"/>
<rect x="248" y="167" width="3" height="6" fill="#fff"/>
<rect x="254" y="150" width="3" height="6" fill="#fff"/>
<rect x="254" y="167" width="3" height="6" fill="#fff"/>
<rect x="260" y="150" width="3" height="6" fill="#fff"/>
<rect x="260" y="167" width="3" height="6" fill="#fff"/>
<rect x="265" y="150" width="3" height="6" fill="#fff"/>
<rect x="265" y="167" width="3" height="6" fill="#fff"/>
<rect x="271" y="150" width="3" height="6" fill="#fff"/>
<rect x="271" y="167" width="3" height="6" fill="#fff"/>
<rect x="277" y="150" width="3" height="6" fill="#fff"/>
<rect x="277" y="167" width="3" height="6" fill="#fff"/>
<rect x="239" y="158" width="18" height="6" fill="#fff"/>
<rect x="261" y="158" width="18" height="6" fill="#fff"/>
<rect x="234" y="159" width="2" height="4" fill="#fff"/>
<rect x="234" y="176" width="48" height="24" fill="#000"/>
<rect x="236" y="177" width="3" height="6" fill="#fff"/>
<rect x="236" y="193" width="3" height="6" fill="#fff"/>
<rect x="242" y="177" width="3" height="6" fill="#fff"/>
<rect x="242" y="193" width="3" height="6" fill="#fff"/>
<rect x="248" y="177" width="3" height="6" fill="#fff"/>
<rect x="248" y="193" width="3" height="6" fill="#fff"/>
<rect x="254" y="177" width="3" height="6" fill="#fff"/>
<rect x="254" y="193" width="3" height="6" fill="#fff"/>
<rect x="260" y="177" width="3" height="6" fill="#fff"/>
<rect x="260" y="193" width="3" height="6" fill="#fff"/>
<rect x="265" y="177" width="3" height="6" fill="#fff"/>
<rect x="265" y="193" width="3" height="6" fill="#fff"/>
<rect x="271" y="177" width="3" height="6" fill="#fff"/>
<rect x="271" y="193" width="3" height="6" fill="#fff"/>
<rect x="277" y="177" width="3" height="6" fill="#fff"/>
<rect x="277" y="193" width="3" height="6" fill="#fff"/>
<rect x="239" y="185" width="18" height="5" fill="#fff"/>
<rect x="261" y="185" width="18" height="6" fill="#fff"/>
<rect x="234" y="186" width="2" height="4" fill="#fff"/>
<rect x="234" y="203" width="48" height="25" fill="#000"/>
<rect x="236" y="204" width="3" height="6" fill="#fff"/>
<rect x="236" y="221" width="3" height="6" fill="#fff"/>
<rect x="242" y="204" width="3" height="6" fill="#fff"/>
<rect x="242" y="221" width="3" height="6" fill="#fff"/>
<rect x="248" y="204" width="3" height="6" fill="#fff"/>
<rect x="248" y="221" width="3" height="6" fill="#fff"/>
<rect x="254" y="204" width="3" height="6" fill="#fff"/>
<rect x="254" y="221" width="3" height="6" fill="#fff"/>
<rect x="260" y="204" width="3" height="6" fill="#fff"/>
<rect x="260" y="221" width="3" height="6" fill="#fff"/>
<rect x="265" y="204" width="3" height="6" fill="#fff"/>
<rect x="265" y="221" width="3" height="6" fill="#fff"/>
<rect x="271" y="204" width="3" height="6" fill="#fff"/>
<rect x="271" y="221" width="3" height="6" fill="#fff"/>
<rect x="277" y="204" width="3" height="6" fill="#fff"/>
<rect x="277" y="221" width="3" height="6" fill="#fff"/>
<rect x="239" y="212" width="18" height="6" fill="#fff"/>
<rect x="261" y="212" width="18" height="6" fill="#fff"/>
<rect x="234" y="213" width="2" height="4" fill="#fff"/>
<rect x="234" y="229" width="48" height="25" fill="#000"/>
<rect x="236" y="230" width="3" height="6" fill="#fff"/>
<rect x="236" y="247" width="3" height="6" fill="#fff"/>
<rect x="242" y="230" width="3" height="6" fill="#fff"/>
<rect x="242" y="247" width="3" height="6" fill="#fff"/>
<rect x="248" y="230" width="3" height="6" fill="#fff"/>
<rect x="248" y="247" width="3" height="6" fill="#fff"/>
<rect x="254" y="230" width="3" height="6" fill="#fff"/>
<rect x="254" y="247" width="3" height="6" fill="#fff"/>
<rect x="260" y="230" width="3" height="6" fill="#fff"/>
<rect x="260" y="247" width="3" height="6" fill="#fff"/>
<rect x="265" y="230" width="3" height="6" fill="#fff"/>
<rect x="265" y="247" width="3" height="6" fill="#fff"/>
<rect x="271" y="230" width="3" height="6" fill="#fff"/>
<rect x="271" y="247" width="3" height="6" fill="#fff"/>
<rect x="277" y="230" width="3" height="6" fill="#fff"/>
<rect x="277" y="247" width="3" height="6" fill="#fff"/>
<rect x="239" y="238" width="18" height="6" fill="#fff"/>
<rect x="261" y="238" width="18" height="6" fill="#fff"/>
<rect x="234" y="239" width="2" height="4" fill="#fff"/>
<rect x="89" y="124" width="61" height="22" fill="#000"/>
<rect x="116" y="123" width="7" height="3" fill="#fff"/>
<rect x="227" y="123" width="7" height="3" fill="#fff"/>
<rect x="116" y="146" width="7" height="3" fill="#fff"/>
<rect x="227" y="146" width="7" height="3" fill="#fff"/>
<rect x="93" y="125" width="3" height="1" fill="#fff"/>
<rect x="98.5" y="125" width="3" height="1" fill="#fff"/>
<rect x="104.0" y="125" width="3" height="1" fill="#fff"/>
<rect x="109.5" y="125" width="3" height="1" fill="#fff"/>
<rect x="115.0" y="125" width="3" height="1" fill="#fff"/>
<rect x="120.5" y="125" width="3" height="1" fill="#fff"/>
<rect x="126.0" y="125" width="3" height="1" fill="#fff"/>
<rect x="131.5" y="125" width="3" height="1" fill="#fff"/>
<rect x="137.0" y="125" width="3" height="1" fill="#fff"/>
<rect x="142.5" y="125" width="3" height="1" fill="#fff"/>
<rect x="93" y="145" width="3" height="1" fill="#fff"/>
<rect x="98.5" y="145" width="3" height="1" fill="#fff"/>
<rect x="104.0" y="145" width="3" height="1" fill="#fff"/>
<rect x="109.5" y="145" width="3" height="1" fill="#fff"/>
<rect x="115.0" y="145" width="3" height="1" fill="#fff"/>
<rect x="120.5" y="145" width="3" height="1" fill="#fff"/>
<rect x="126.0" y="145" width="3" height="1" fill="#fff"/>
<rect x="131.5" y="145" width="3" height="1" fill="#fff"/>
<rect x="137.0" y="145" width="3" height="1" fill="#fff"/>
<rect x="142.5" y="145" width="3" height="1" fill="#fff"/>
<path d="M94 128 H147 V142 H92 V130 Z" fill="#fff"/>
<rect x="201" y="124" width="61" height="22" fill="#000"/>
<rect x="116" y="123" width="7" height="3" fill="#fff"/>
<rect x="227" y="123" width="7" height="3" fill="#fff"/>
<rect x="116" y="146" width="7" height="3" fill="#fff"/>
<rect x="227" y="146" width="7" height="3" fill="#fff"/>
<rect x="205" y="125" width="3" height="1" fill="#fff"/>
<rect x="210.5" y="125" width="3" height="1" fill="#fff"/>
<rect x="216.0" y="125" width="3" height="1" fill="#fff"/>
<rect x="221.5" y="125" width="3" height="1" fill="#fff"/>
<rect x="227.0" y="125" width="3" height="1" fill="#fff"/>
<rect x="232.5" y="125" width="3" height="1" fill="#fff"/>
<rect x="238.0" y="125" width="3" height="1" fill="#fff"/>
<rect x="243.5" y="125" width="3" height="1" fill="#fff"/>
<rect x="249.0" y="125" width="3" height="1" fill="#fff"/>
<rect x="254.5" y="125" width="3" height="1" fill="#fff"/>
<rect x="205" y="145" width="3" height="1" fill="#fff"/>
<rect x="210.5" y="145" width="3" height="1" fill="#fff"/>
<rect x="216.0" y="145" width="3" height="1" fill="#fff"/>
<rect x="221.5" y="145" width="3" height="1" fill="#fff"/>
<rect x="227.0" y="145" width="3" height="1" fill="#fff"/>
<rect x="232.5" y="145" width="3" height="1" fill="#fff"/>
<rect x="238.0" y="145" width="3" height="1" fill="#fff"/>
<rect x="243.5" y="145" width="3" height="1" fill="#fff"/>
<rect x="249.0" y="145" width="3" height="1" fill="#fff"/>
<rect x="254.5" y="145" width="3" height="1" fill="#fff"/>
<path d="M206 128 H259 V142 H204 V130 Z" fill="#fff"/>
<rect x="294" y="60" width="88" height="41" fill="#000"/>
<rect x="318" y="73" width="40" height="14" fill="#fff"/>
<rect x="294" y="106" width="88" height="41" fill="#000"/>
<rect x="296" y="108" width="4" height="1" fill="#fff"/>
<rect x="302" y="108" width="4" height="1" fill="#fff"/>
<rect x="308" y="108" width="4" height="1" fill="#fff"/>
<rect x="314" y="108" width="4" height="1" fill="#fff"/>
<rect x="320" y="108" width="4" height="1" fill="#fff"/>
<rect x="326" y="108" width="4" height="1" fill="#fff"/>
<rect x="332" y="108" width="4" height="1" fill="#fff"/>
<rect x="338" y="108" width="4" height="1" fill="#fff"/>
<rect x="344" y="108" width="4" height="1" fill="#fff"/>
<rect x="350" y="108" width="4" height="1" fill="#fff"/>
<rect x="356" y="108" width="4" height="1" fill="#fff"/>
<rect x="362" y="108" width="4" height="1" fill="#fff"/>
<rect x="368" y="108" width="4" height="1" fill="#fff"/>
<rect x="374" y="108" width="4" height="1" fill="#fff"/>
<rect x="380" y="108" width="1" height="1" fill="#fff"/>
<rect x="296" y="145" width="4" height="1" fill="#fff"/>
<rect x="302" y="145" width="4" height="1" fill="#fff"/>
<rect x="308" y="145" width="4" height="1" fill="#fff"/>
<rect x="314" y="145" width="4" height="1" fill="#fff"/>
<rect x="320" y="145" width="4" height="1" fill="#fff"/>
<rect x="326" y="145" width="4" height="1" fill="#fff"/>
<rect x="332" y="145" width="4" height="1" fill="#fff"/>
<rect x="338" y="145" width="4" height="1" fill="#fff"/>
<rect x="344" y="145" width="4" height="1" fill="#fff"/>
<rect x="350" y="145" width="4" height="1" fill="#fff"/>
<rect x="356" y="145" width="4" height="1" fill="#fff"/>
<rect x="362" y="145" width="4" height="1" fill="#fff"/>
<rect x="368" y="145" width="4" height="1" fill="#fff"/>
<rect x="374" y="145" width="4" height="1" fill="#fff"/>
<rect x="380" y="145" width="1" height="1" fill="#fff"/>
<rect x="318" y="120" width="40" height="14" fill="#fff"/>
<rect x="398" y="416" width="127" height="43" fill="#000"/>
<rect x="401" y="456" width="4" height="1" fill="#fff"/>
<rect x="407" y="456" width="4" height="1" fill="#fff"/>
<rect x="413" y="456" width="4" height="1" fill="#fff"/>
<rect x="419" y="456" width="4" height="1" fill="#fff"/>
<rect x="425" y="456" width="4" height="1" fill="#fff"/>
<rect x="431" y="456" width="4" height="1" fill="#fff"/>
<rect x="437" y="456" width="4" height="1" fill="#fff"/>
<rect x="443" y="456" width="4" height="1" fill="#fff"/>
<rect x="449" y="456" width="4" height="1" fill="#fff"/>
<rect x="455" y="456" width="4" height="1" fill="#fff"/>
<rect x="461" y="456" width="4" height="1" fill="#fff"/>
<rect x="467" y="456" width="4" height="1" fill="#fff"/>
<rect x="473" y="456" width="4" height="1" fill="#fff"/>
<rect x="479" y="456" width="4" height="1" fill="#fff"/>
<rect x="485" y="456" width="4" height="1" fill="#fff"/>
<rect x="491" y="456" width="4" height="1" fill="#fff"/>
<rect x="497" y="456" width="4" height="1" fill="#fff"/>
<rect x="503" y="456" width="4" height="1" fill="#fff"/>
<rect x="509" y="456" width="4" height="1" fill="#fff"/>
<rect x="515" y="456" width="4" height="1" fill="#fff"/>
<rect x="521" y="456" width="2" height="1" fill="#fff"/>
<path d="M448 430 H475 L476 431 V443 L475 444 H448 L447 443 V431 Z" fill="#fff"/>
<rect x="325" y="195" width="57" height="66" fill="#000"/>
<rect x="323" y="198" width="61" height="60" fill="#000"/>
<rect x="321" y="201" width="65" height="54" fill="#000"/>
<rect x="329" y="195" width="1" height="3" fill="#fff"/>
<rect x="332" y="195" width="1" height="3" fill="#fff"/>
<rect x="335" y="195" width="1" height="3" fill="#fff"/>
<rect x="346" y="195" width="1" height="3" fill="#fff"/>
<rect x="349" y="195" width="1" height="3" fill="#fff"/>
<rect x="352" y="195" width="1" height="3" fill="#fff"/>
<rect x="363" y="195" width="1" height="3" fill="#fff"/>
<rect x="366" y="195" width="1" height="3" fill="#fff"/>
<rect x="369" y="195" width="1" height="3" fill="#fff"/>
<rect x="334" y="258" width="1" height="3" fill="#fff"/>
<rect x="337" y="258" width="1" height="3" fill="#fff"/>
<rect x="340" y="258" width="1" height="3" fill="#fff"/>
<rect x="351" y="258" width="1" height="3" fill="#fff"/>
<rect x="354" y="258" width="1" height="3" fill="#fff"/>
<rect x="357" y="258" width="1" height="3" fill="#fff"/>
<rect x="368" y="258" width="1" height="3" fill="#fff"/>
<rect x="371" y="258" width="1" height="3" fill="#fff"/>
<rect x="374" y="258" width="1" height="3" fill="#fff"/>
<rect x="321" y="206" width="2" height="1" fill="#fff"/>
<rect x="321" y="209" width="2" height="1" fill="#fff"/>
<rect x="321" y="212" width="2" height="1" fill="#fff"/>
<rect x="321" y="226" width="2" height="1" fill="#fff"/>
<rect x="321" y="229" width="2" height="1" fill="#fff"/>
<rect x="321" y="232" width="2" height="1" fill="#fff"/>
<rect x="321" y="243" width="2" height="1" fill="#fff"/>
<rect x="321" y="246" width="2" height="1" fill="#fff"/>
<rect x="321" y="249" width="2" height="1" fill="#fff"/>
<rect x="384" y="215" width="2" height="1" fill="#fff"/>
<rect x="384" y="218" width="2" height="1" fill="#fff"/>
<rect x="384" y="221" width="2" height="1" fill="#fff"/>
<rect x="384" y="232" width="2" height="1" fill="#fff"/>
<rect x="384" y="235" width="2" height="1" fill="#fff"/>
<rect x="384" y="238" width="2" height="1" fill="#fff"/>
<rect x="384" y="248" width="2" height="1" fill="#fff"/>
<rect x="384" y="251" width="2" height="1" fill="#fff"/>
<rect x="384" y="254" width="2" height="1" fill="#fff"/>
<rect x="134" y="290" width="57" height="66" fill="#000"/>
<rect x="132" y="293" width="61" height="60" fill="#000"/>
<rect x="130" y="296" width="65" height="54" fill="#000"/>
<rect x="141" y="290" width="1" height="3" fill="#fff"/>
<rect x="144" y="290" width="1" height="3" fill="#fff"/>
<rect x="147" y="290" width="1" height="3" fill="#fff"/>
<rect x="158" y="290" width="1" height="3" fill="#fff"/>
<rect x="161" y="290" width="1" height="3" fill="#fff"/>
<rect x="164" y="290" width="1" height="3" fill="#fff"/>
<rect x="175" y="290" width="1" height="3" fill="#fff"/>
<rect x="178" y="290" width="1" height="3" fill="#fff"/>
<rect x="181" y="290" width="1" height="3" fill="#fff"/>
<rect x="146" y="353" width="1" height="3" fill="#fff"/>
<rect x="149" y="353" width="1" height="3" fill="#fff"/>
<rect x="152" y="353" width="1" height="3" fill="#fff"/>
<rect x="163" y="353" width="1" height="3" fill="#fff"/>
<rect x="166" y="353" width="1" height="3" fill="#fff"/>
<rect x="169" y="353" width="1" height="3" fill="#fff"/>
<rect x="180" y="353" width="1" height="3" fill="#fff"/>
<rect x="183" y="353" width="1" height="3" fill="#fff"/>
<rect x="186" y="353" width="1" height="3" fill="#fff"/>
<rect x="130" y="297" width="2" height="1" fill="#fff"/>
<rect x="130" y="300" width="2" height="1" fill="#fff"/>
<rect x="130" y="303" width="2" height="1" fill="#fff"/>
<rect x="130" y="315" width="2" height="1" fill="#fff"/>
<rect x="130" y="318" width="2" height="1" fill="#fff"/>
<rect x="130" y="321" width="2" height="1" fill="#fff"/>
<rect x="130" y="332" width="2" height="1" fill="#fff"/>
<rect x="130" y="335" width="2" height="1" fill="#fff"/>
<rect x="130" y="338" width="2" height="1" fill="#fff"/>
<rect x="193" y="302" width="2" height="1" fill="#fff"/>
<rect x="193" y="305" width="2" height="1" fill="#fff"/>
<rect x="193" y="308" width="2" height="1" fill="#fff"/>
<rect x="193" y="322" width="2" height="1" fill="#fff"/>
<rect x="193" y="325" width="2" height="1" fill="#fff"/>
<rect x="193" y="328" width="2" height="1" fill="#fff"/>
<rect x="193" y="341" width="2" height="1" fill="#fff"/>
<rect x="193" y="344" width="2" height="1" fill="#fff"/>
<rect x="193" y="347" width="2" height="1" fill="#fff"/>
<rect x="329" y="314" width="58" height="66" fill="#000"/>
<rect x="327" y="317" width="62" height="60" fill="#000"/>
<rect x="325" y="320" width="66" height="54" fill="#000"/>
<rect x="336" y="314" width="1" height="3" fill="#fff"/>
<rect x="339" y="314" width="1" height="3" fill="#fff"/>
<rect x="342" y="314" width="1" height="3" fill="#fff"/>
<rect x="356" y="314" width="1" height="3" fill="#fff"/>
<rect x="359" y="314" width="1" height="3" fill="#fff"/>
<rect x="362" y="314" width="1" height="3" fill="#fff"/>
<rect x="373" y="314" width="1" height="3" fill="#fff"/>
<rect x="376" y="314" width="1" height="3" fill="#fff"/>
<rect x="379" y="314" width="1" height="3" fill="#fff"/>
<rect x="344" y="377" width="1" height="3" fill="#fff"/>
<rect x="347" y="377" width="1" height="3" fill="#fff"/>
<rect x="350" y="377" width="1" height="3" fill="#fff"/>
<rect x="361" y="377" width="1" height="3" fill="#fff"/>
<rect x="364" y="377" width="1" height="3" fill="#fff"/>
<rect x="367" y="377" width="1" height="3" fill="#fff"/>
<rect x="378" y="377" width="1" height="3" fill="#fff"/>
<rect x="381" y="377" width="1" height="3" fill="#fff"/>
<rect x="384" y="377" width="1" height="3" fill="#fff"/>
<rect x="325" y="324" width="2" height="1" fill="#fff"/>
<rect x="325" y="327" width="2" height="1" fill="#fff"/>
<rect x="325" y="330" width="2" height="1" fill="#fff"/>
<rect x="325" y="341" width="2" height="1" fill="#fff"/>
<rect x="325" y="344" width="2" height="1" fill="#fff"/>
<rect x="325" y="347" width="2" height="1" fill="#fff"/>
<rect x="325" y="359" width="2" height="1" fill="#fff"/>
<rect x="325" y="362" width="2" height="1" fill="#fff"/>
<rect x="325" y="365" width="2" height="1" fill="#fff"/>
<rect x="389" y="331" width="2" height="1" fill="#fff"/>
<rect x="389" y="334" width="2" height="1" fill="#fff"/>
<rect x="389" y="337" width="2" height="1" fill="#fff"/>
<rect x="389" y="348" width="2" height="1" fill="#fff"/>
<rect x="389" y="351" width="2" height="1" fill="#fff"/>
<rect x="389" y="354" width="2" height="1" fill="#fff"/>
<rect x="389" y="365" width="2" height="1" fill="#fff"/>
<rect x="389" y="368" width="2" height="1" fill="#fff"/>
<rect x="389" y="371" width="2" height="1" fill="#fff"/>
<rect x="224" y="389" width="58" height="66" fill="#000"/>
<rect x="222" y="392" width="62" height="60" fill="#000"/>
<rect x="220" y="395" width="66" height="54" fill="#000"/>
<rect x="240" y="389" width="1" height="3" fill="#fff"/>
<rect x="243" y="389" width="1" height="3" fill="#fff"/>
<rect x="246" y="389" width="1" height="3" fill="#fff"/>
<rect x="257" y="389" width="1" height="3" fill="#fff"/>
<rect x="260" y="389" width="1" height="3" fill="#fff"/>
<rect x="263" y="389" width="1" height="3" fill="#fff"/>
<rect x="274" y="389" width="1" height="3" fill="#fff"/>
<rect x="277" y="389" width="1" height="3" fill="#fff"/>
<rect x="280" y="389" width="1" height="3" fill="#fff"/>
<rect x="228" y="452" width="1" height="3" fill="#fff"/>
<rect x="231" y="452" width="1" height="3" fill="#fff"/>
<rect x="234" y="452" width="1" height="3" fill="#fff"/>
<rect x="245" y="452" width="1" height="3" fill="#fff"/>
<rect x="248" y="452" width="1" height="3" fill="#fff"/>
<rect x="251" y="452" width="1" height="3" fill="#fff"/>
<rect x="262" y="452" width="1" height="3" fill="#fff"/>
<rect x="265" y="452" width="1" height="3" fill="#fff"/>
<rect x="268" y="452" width="1" height="3" fill="#fff"/>
<rect x="276" y="452" width="1" height="3" fill="#fff"/>
<rect x="279" y="452" width="1" height="3" fill="#fff"/>
<rect x="282" y="452" width="1" height="3" fill="#fff"/>
<rect x="220" y="396" width="2" height="1" fill="#fff"/>
<rect x="220" y="399" width="2" height="1" fill="#fff"/>
<rect x="220" y="402" width="2" height="1" fill="#fff"/>
<rect x="220" y="414" width="2" height="1" fill="#fff"/>
<rect x="220" y="417" width="2" height="1" fill="#fff"/>
<rect x="220" y="420" width="2" height="1" fill="#fff"/>
<rect x="220" y="431" width="2" height="1" fill="#fff"/>
<rect x="220" y="434" width="2" height="1" fill="#fff"/>
<rect x="220" y="437" width="2" height="1" fill="#fff"/>
<rect x="284" y="401" width="2" height="1" fill="#fff"/>
<rect x="284" y="404" width="2" height="1" fill="#fff"/>
<rect x="284" y="407" width="2" height="1" fill="#fff"/>
<rect x="284" y="420" width="2" height="1" fill="#fff"/>
<rect x="284" y="423" width="2" height="1" fill="#fff"/>
<rect x="284" y="426" width="2" height="1" fill="#fff"/>
<rect x="284" y="440" width="2" height="1" fill="#fff"/>
<rect x="284" y="443" width="2" height="1" fill="#fff"/>
<rect x="284" y="446" width="2" height="1" fill="#fff"/>
<rect x="229" y="296" width="61" height="60" fill="#000"/>
<rect x="238" y="298" width="43" height="3" fill="#fff"/>
<rect x="237" y="301" width="45" height="2" fill="#fff"/>
<rect x="237" y="349" width="45" height="1" fill="#fff"/>
<rect x="237" y="350" width="44" height="4" fill="#fff"/>
<rect x="231" y="304" width="5" height="19" fill="#fff"/>
<rect x="231" y="324" width="5" height="17" fill="#fff"/>
<rect x="231" y="342" width="5" height="6" fill="#fff"/>
<rect x="282" y="304" width="5" height="17" fill="#fff"/>
<rect x="282" y="322" width="5" height="19" fill="#fff"/>
<rect x="282" y="342" width="5" height="6" fill="#fff"/>
<rect x="245" y="350" width="1" height="4" fill="#000"/>
<rect x="256" y="350" width="1" height="4" fill="#000"/>
<rect x="263" y="350" width="1" height="4" fill="#000"/>
<rect x="241" y="298" width="1" height="3" fill="#000"/>
<rect x="271" y="298" width="1" height="3" fill="#000"/>
<rect x="279" y="300" width="1" height="1" fill="#000"/>
<rect x="253" y="298" width="1" height="1" fill="#000"/>
<rect x="245" y="319" width="28" height="14" fill="#fff"/>
<rect x="32" y="370" width="126" height="43" fill="#000"/>
<rect x="35" y="372" width="3" height="5" fill="#fff"/>
<rect x="35" y="406" width="3" height="5" fill="#fff"/>
<rect x="41" y="372" width="3" height="5" fill="#fff"/>
<rect x="41" y="406" width="3" height="5" fill="#fff"/>
<rect x="47" y="372" width="3" height="5" fill="#fff"/>
<rect x="47" y="406" width="3" height="5" fill="#fff"/>
<rect x="54" y="372" width="3" height="5" fill="#fff"/>
<rect x="54" y="406" width="3" height="5" fill="#fff"/>
<rect x="60" y="372" width="3" height="5" fill="#fff"/>
<rect x="60" y="406" width="3" height="5" fill="#fff"/>
<rect x="66" y="372" width="3" height="5" fill="#fff"/>
<rect x="66" y="406" width="3" height="5" fill="#fff"/>
<rect x="72" y="372" width="3" height="5" fill="#fff"/>
<rect x="72" y="406" width="3" height="5" fill="#fff"/>
<rect x="78" y="372" width="3" height="5" fill="#fff"/>
<rect x="78" y="406" width="3" height="5" fill="#fff"/>
<rect x="85" y="372" width="3" height="5" fill="#fff"/>
<rect x="85" y="406" width="3" height="5" fill="#fff"/>
<rect x="91" y="372" width="3" height="5" fill="#fff"/>
<rect x="91" y="406" width="3" height="5" fill="#fff"/>
<rect x="97" y="372" width="3" height="5" fill="#fff"/>
<rect x="97" y="406" width="3" height="5" fill="#fff"/>
<rect x="103" y="372" width="3" height="5" fill="#fff"/>
<rect x="103" y="406" width="3" height="5" fill="#fff"/>
<rect x="110" y="372" width="3" height="5" fill="#fff"/>
<rect x="110" y="406" width="3" height="5" fill="#fff"/>
<rect x="116" y="372" width="3" height="5" fill="#fff"/>
<rect x="116" y="406" width="3" height="5" fill="#fff"/>
<rect x="122" y="372" width="3" height="5" fill="#fff"/>
<rect x="122" y="406" width="3" height="5" fill="#fff"/>
<rect x="128" y="372" width="3" height="5" fill="#fff"/>
<rect x="128" y="406" width="3" height="5" fill="#fff"/>
<rect x="134" y="372" width="3" height="5" fill="#fff"/>
<rect x="134" y="406" width="3" height="5" fill="#fff"/>
<rect x="141" y="372" width="3" height="5" fill="#fff"/>
<rect x="141" y="406" width="3" height="5" fill="#fff"/>
<rect x="147" y="372" width="3" height="5" fill="#fff"/>
<rect x="147" y="406" width="3" height="5" fill="#fff"/>
<rect x="153" y="372" width="3" height="5" fill="#fff"/>
<rect x="153" y="406" width="3" height="5" fill="#fff"/>
<rect x="37" y="380" width="109" height="23" fill="#fff"/>
<rect x="89" y="380" width="5" height="23" fill="#000"/>
<path d="M158 385 L153 390 V393 L158 398 Z" fill="#fff"/>
<path d="M81 382 H110 L112 384 V399 L110 401 H81 L79 399 V384 Z" fill="#000"/>
<path d="M82 384 H108 L109 385 V397 L108 398 H82 L81 397 V385 Z" fill="#fff"/>
<path d="M99 416 H131 L133 418 V433 L131 435 H99 L97 433 V418 Z" fill="#000"/>
<path d="M100 418 H130 L131 419 V431 L130 432 H100 L99 431 V419 Z" fill="#fff"/>
<rect x="94" y="440" width="49" height="27" fill="#000"/>
<rect x="96" y="441" width="45" height="24" fill="#fff"/>
<rect x="96" y="441" width="1" height="1" fill="#fff"/>
<rect x="96" y="442" width="1" height="1" fill="#fff"/>
<rect x="97" y="441" width="1" height="1" fill="#000"/>
<rect x="98" y="441" width="1" height="1" fill="#000"/>
<rect x="99" y="441" width="1" height="1" fill="#000"/>
<rect x="97" y="442" width="1" height="1" fill="#000"/>
<rect x="96" y="443" width="1" height="1" fill="#000"/>
<rect x="140" y="441" width="1" height="1" fill="#fff"/>
<rect x="140" y="442" width="1" height="1" fill="#fff"/>
<rect x="139" y="441" width="1" height="1" fill="#000"/>
<rect x="138" y="441" width="1" height="1" fill="#000"/>
<rect x="137" y="441" width="1" height="1" fill="#000"/>
<rect x="139" y="442" width="1" height="1" fill="#000"/>
<rect x="140" y="443" width="1" height="1" fill="#000"/>
<rect x="96" y="465" width="1" height="1" fill="#fff"/>
<rect x="96" y="464" width="1" height="1" fill="#fff"/>
<rect x="97" y="465" width="1" height="1" fill="#000"/>
<rect x="98" y="465" width="1" height="1" fill="#000"/>
<rect x="99" y="465" width="1" height="1" fill="#000"/>
<rect x="97" y="464" width="1" height="1" fill="#000"/>
<rect x="96" y="463" width="1" height="1" fill="#000"/>
<rect x="140" y="465" width="1" height="1" fill="#fff"/>
<rect x="140" y="464" width="1" height="1" fill="#fff"/>
<rect x="139" y="465" width="1" height="1" fill="#000"/>
<rect x="138" y="465" width="1" height="1" fill="#000"/>
<rect x="137" y="465" width="1" height="1" fill="#000"/>
<rect x="139" y="464" width="1" height="1" fill="#000"/>
<rect x="140" y="463" width="1" height="1" fill="#000"/>
<rect x="22" y="486" width="49" height="27" fill="#000"/>
<rect x="24" y="487" width="45" height="24" fill="#fff"/>
<rect x="24" y="487" width="1" height="1" fill="#fff"/>
<rect x="24" y="488" width="1" height="1" fill="#fff"/>
<rect x="25" y="487" width="1" height="1" fill="#000"/>
<rect x="26" y="487" width="1" height="1" fill="#000"/>
<rect x="27" y="487" width="1" height="1" fill="#000"/>
<rect x="25" y="488" width="1" height="1" fill="#000"/>
<rect x="24" y="489" width="1" height="1" fill="#000"/>
<rect x="68" y="487" width="1" height="1" fill="#fff"/>
<rect x="68" y="488" width="1" height="1" fill="#fff"/>
<rect x="67" y="487" width="1" height="1" fill="#000"/>
<rect x="66" y="487" width="1" height="1" fill="#000"/>
<rect x="65" y="487" width="1" height="1" fill="#000"/>
<rect x="67" y="488" width="1" height="1" fill="#000"/>
<rect x="68" y="489" width="1" height="1" fill="#000"/>
<rect x="24" y="511" width="1" height="1" fill="#fff"/>
<rect x="24" y="510" width="1" height="1" fill="#fff"/>
<rect x="25" y="511" width="1" height="1" fill="#000"/>
<rect x="26" y="511" width="1" height="1" fill="#000"/>
<rect x="27" y="511" width="1" height="1" fill="#000"/>
<rect x="25" y="510" width="1" height="1" fill="#000"/>
<rect x="24" y="509" width="1" height="1" fill="#000"/>
<rect x="68" y="511" width="1" height="1" fill="#fff"/>
<rect x="68" y="510" width="1" height="1" fill="#fff"/>
<rect x="67" y="511" width="1" height="1" fill="#000"/>
<rect x="66" y="511" width="1" height="1" fill="#000"/>
<rect x="65" y="511" width="1" height="1" fill="#000"/>
<rect x="67" y="510" width="1" height="1" fill="#000"/>
<rect x="68" y="509" width="1" height="1" fill="#000"/>
<rect x="219" y="482" width="49" height="27" fill="#000"/>
<rect x="221" y="483" width="45" height="24" fill="#fff"/>
<rect x="221" y="483" width="1" height="1" fill="#fff"/>
<rect x="221" y="484" width="1" height="1" fill="#fff"/>
<rect x="222" y="483" width="1" height="1" fill="#000"/>
<rect x="223" y="483" width="1" height="1" fill="#000"/>
<rect x="224" y="483" width="1" height="1" fill="#000"/>
<rect x="222" y="484" width="1" height="1" fill="#000"/>
<rect x="221" y="485" width="1" height="1" fill="#000"/>
<rect x="265" y="483" width="1" height="1" fill="#fff"/>
<rect x="265" y="484" width="1" height="1" fill="#fff"/>
<rect x="264" y="483" width="1" height="1" fill="#000"/>
<rect x="263" y="483" width="1" height="1" fill="#000"/>
<rect x="262" y="483" width="1" height="1" fill="#000"/>
<rect x="264" y="484" width="1" height="1" fill="#000"/>
<rect x="265" y="485" width="1" height="1" fill="#000"/>
<rect x="221" y="507" width="1" height="1" fill="#fff"/>
<rect x="221" y="506" width="1" height="1" fill="#fff"/>
<rect x="222" y="507" width="1" height="1" fill="#000"/>
<rect x="223" y="507" width="1" height="1" fill="#000"/>
<rect x="224" y="507" width="1" height="1" fill="#000"/>
<rect x="222" y="506" width="1" height="1" fill="#000"/>
<rect x="221" y="505" width="1" height="1" fill="#000"/>
<rect x="265" y="507" width="1" height="1" fill="#fff"/>
<rect x="265" y="506" width="1" height="1" fill="#fff"/>
<rect x="264" y="507" width="1" height="1" fill="#000"/>
<rect x="263" y="507" width="1" height="1" fill="#000"/>
<rect x="262" y="507" width="1" height="1" fill="#000"/>
<rect x="264" y="506" width="1" height="1" fill="#000"/>
<rect x="265" y="505" width="1" height="1" fill="#000"/>
<circle cx="714.5" cy="429.5" r="23" fill="#fff" stroke="#000" stroke-width="1"/>
<rect x="737" y="422" width="16" height="16" fill="#000"/>
<path d="M704 426.5 L752.5 426.5 L752.5 432.5 L704 432.5 A3 3 0 0 1 704 426.5 Z" fill="#fff" stroke="#000" stroke-width="1"/>
<rect x="710" y="427" width="2" height="5" fill="#000"/>
<rect x="762" y="410" width="26" height="37" fill="#000"/>
<rect x="787" y="407" width="3" height="44" fill="#000"/>
<rect x="789" y="404" width="4" height="50" fill="#000"/>
<rect x="760" y="417" width="2" height="24" fill="#000"/>
<rect x="756" y="419" width="5" height="9" fill="#000"/>
<rect x="757" y="420" width="3" height="7" fill="#fff"/>
<rect x="756" y="430" width="5" height="9" fill="#000"/>
<rect x="757" y="431" width="3" height="7" fill="#fff"/>
<rect x="761" y="419" width="1" height="7" fill="#fff"/>
<rect x="762" y="419" width="1" height="1" fill="#fff"/>
<rect x="762" y="422" width="1" height="1" fill="#fff"/>
<rect x="762" y="424" width="1" height="1" fill="#fff"/>
<rect x="761" y="432" width="1" height="7" fill="#fff"/>
<rect x="762" y="433" width="1" height="1" fill="#fff"/>
<rect x="762" y="436" width="1" height="1" fill="#fff"/>
<rect x="762" y="438" width="1" height="1" fill="#fff"/>
<rect x="761" y="427" width="2" height="3" fill="#fff"/>
<rect x="647" y="470" width="112" height="1" fill="#000"/>
<rect x="647" y="494" width="112" height="1" fill="#000"/>
<rect x="647" y="470" width="1" height="25" fill="#000"/>
<rect x="758" y="470" width="1" height="25" fill="#000"/>
<rect x="648" y="486" width="110" height="1" fill="#000"/>
<rect x="652" y="474" width="8" height="7" fill="#000"/>
<rect x="653" y="475" width="6" height="5" fill="#fff"/>
<rect x="649" y="482" width="7" height="3" fill="#000"/>
<rect x="650" y="483" width="5" height="1" fill="#fff"/>
<rect x="651" y="487" width="3" height="2" fill="#000"/>
<rect x="649" y="489" width="7" height="2" fill="#000"/>
<rect x="651" y="491" width="3" height="1" fill="#000"/>
<rect x="661" y="474" width="8" height="7" fill="#000"/>
<rect x="662" y="475" width="6" height="5" fill="#fff"/>
<rect x="658" y="482" width="7" height="3" fill="#000"/>
<rect x="659" y="483" width="5" height="1" fill="#fff"/>
<rect x="660" y="487" width="3" height="2" fill="#000"/>
<rect x="658" y="489" width="7" height="2" fill="#000"/>
<rect x="660" y="491" width="3" height="1" fill="#000"/>
<rect x="671" y="474" width="8" height="7" fill="#000"/>
<rect x="672" y="475" width="6" height="5" fill="#fff"/>
<rect x="667" y="482" width="7" height="3" fill="#000"/>
<rect x="668" y="483" width="5" height="1" fill="#fff"/>
<rect x="669" y="487" width="3" height="2" fill="#000"/>
<rect x="667" y="489" width="7" height="2" fill="#000"/>
<rect x="669" y="491" width="3" height="1" fill="#000"/>
<rect x="680" y="474" width="8" height="7" fill="#000"/>
<rect x="681" y="475" width="6" height="5" fill="#fff"/>
<rect x="677" y="482" width="7" height="3" fill="#000"/>
<rect x="678" y="483" width="5" height="1" fill="#fff"/>
<rect x="679" y="487" width="3" height="2" fill="#000"/>
<rect x="677" y="489" width="7" height="2" fill="#000"/>
<rect x="679" y="491" width="3" height="1" fill="#000"/>
<rect x="690" y="474" width="8" height="7" fill="#000"/>
<rect x="691" y="475" width="6" height="5" fill="#fff"/>
<rect x="686" y="482" width="7" height="3" fill="#000"/>
<rect x="687" y="483" width="5" height="1" fill="#fff"/>
<rect x="688" y="487" width="3" height="2" fill="#000"/>
<rect x="686" y="489" width="7" height="2" fill="#000"/>
<rect x="688" y="491" width="3" height="1" fill="#000"/>
<rect x="699" y="474" width="8" height="7" fill="#000"/>
<rect x="700" y="475" width="6" height="5" fill="#fff"/>
<rect x="695" y="482" width="7" height="3" fill="#000"/>
<rect x="696" y="483" width="5" height="1" fill="#fff"/>
<rect x="697" y="487" width="3" height="2" fill="#000"/>
<rect x="695" y="489" width="7" height="2" fill="#000"/>
<rect x="697" y="491" width="3" height="1" fill="#000"/>
<rect x="709" y="474" width="8" height="7" fill="#000"/>
<rect x="710" y="475" width="6" height="5" fill="#fff"/>
<rect x="704" y="482" width="7" height="3" fill="#000"/>
<rect x="705" y="483" width="5" height="1" fill="#fff"/>
<rect x="706" y="487" width="3" height="2" fill="#000"/>
<rect x="704" y="489" width="7" height="2" fill="#000"/>
<rect x="706" y="491" width="3" height="1" fill="#000"/>
<rect x="718" y="474" width="8" height="7" fill="#000"/>
<rect x="719" y="475" width="6" height="5" fill="#fff"/>
<rect x="713" y="482" width="7" height="3" fill="#000"/>
<rect x="714" y="483" width="5" height="1" fill="#fff"/>
<rect x="715" y="487" width="3" height="2" fill="#000"/>
<rect x="713" y="489" width="7" height="2" fill="#000"/>
<rect x="715" y="491" width="3" height="1" fill="#000"/>
<rect x="728" y="474" width="8" height="7" fill="#000"/>
<rect x="729" y="475" width="6" height="5" fill="#fff"/>
<rect x="722" y="482" width="7" height="3" fill="#000"/>
<rect x="723" y="483" width="5" height="1" fill="#fff"/>
<rect x="724" y="487" width="3" height="2" fill="#000"/>
<rect x="722" y="489" width="7" height="2" fill="#000"/>
<rect x="724" y="491" width="3" height="1" fill="#000"/>
<rect x="737" y="474" width="8" height="7" fill="#000"/>
<rect x="738" y="475" width="6" height="5" fill="#fff"/>
<rect x="732" y="482" width="7" height="3" fill="#000"/>
<rect x="733" y="483" width="5" height="1" fill="#fff"/>
<rect x="734" y="487" width="3" height="2" fill="#000"/>
<rect x="732" y="489" width="7" height="2" fill="#000"/>
<rect x="734" y="491" width="3" height="1" fill="#000"/>
<rect x="746" y="474" width="8" height="7" fill="#000"/>
<rect x="747" y="475" width="6" height="5" fill="#fff"/>
<rect x="741" y="482" width="7" height="3" fill="#000"/>
<rect x="742" y="483" width="5" height="1" fill="#fff"/>
<rect x="743" y="487" width="3" height="2" fill="#000"/>
<rect x="741" y="489" width="7" height="2" fill="#000"/>
<rect x="743" y="491" width="3" height="1" fill="#000"/>
<rect x="756" y="474" width="4" height="7" fill="#000"/>
<rect x="757" y="475" width="2" height="5" fill="#fff"/>
<rect x="750" y="482" width="7" height="3" fill="#000"/>
<rect x="751" y="483" width="5" height="1" fill="#fff"/>
<rect x="752" y="487" width="3" height="2" fill="#000"/>
<rect x="750" y="489" width="7" height="2" fill="#000"/>
<rect x="752" y="491" width="3" height="1" fill="#000"/>
<rect x="648" y="475" width="2" height="1" fill="#fff"/>
<rect x="648" y="479" width="2" height="1" fill="#fff"/>
<rect x="289" y="149" width="20" height="7" fill="#000"/>
<rect x="290" y="150" width="1" height="5" fill="#fff"/>
<rect x="296" y="150" width="1" height="5" fill="#fff"/>
<rect x="301" y="150" width="1" height="5" fill="#fff"/>
<rect x="307" y="150" width="1" height="5" fill="#fff"/>
<rect x="298" y="146" width="1" height="3" fill="#000"/>
<rect x="289" y="161" width="20" height="7" fill="#000"/>
<rect x="290" y="162" width="18" height="1" fill="#fff"/>
<rect x="290" y="162" width="1" height="5" fill="#fff"/>
<rect x="307" y="162" width="1" height="5" fill="#fff"/>
<rect x="296" y="162" width="1" height="5" fill="#fff"/>
<rect x="302" y="162" width="1" height="5" fill="#fff"/>
<rect x="289" y="173" width="20" height="7" fill="#000"/>
<rect x="290" y="174" width="18" height="1" fill="#fff"/>
<rect x="290" y="174" width="1" height="5" fill="#fff"/>
<rect x="307" y="174" width="1" height="5" fill="#fff"/>
<rect x="296" y="174" width="1" height="5" fill="#fff"/>
<rect x="302" y="174" width="1" height="5" fill="#fff"/>
<rect x="289" y="185" width="20" height="7" fill="#000"/>
<rect x="290" y="186" width="18" height="1" fill="#fff"/>
<rect x="290" y="186" width="1" height="5" fill="#fff"/>
<rect x="307" y="186" width="1" height="5" fill="#fff"/>
<rect x="296" y="186" width="1" height="5" fill="#fff"/>
<rect x="302" y="186" width="1" height="5" fill="#fff"/>
<rect x="48" y="257" width="26" height="6" fill="#000"/>
<rect x="49" y="258" width="1" height="4" fill="#fff"/>
<rect x="54" y="258" width="1" height="4" fill="#fff"/>
<rect x="60" y="258" width="1" height="4" fill="#fff"/>
<rect x="66" y="258" width="1" height="4" fill="#fff"/>
<rect x="71" y="258" width="1" height="4" fill="#fff"/>
<rect x="72" y="258" width="1" height="4" fill="#fff"/>
<rect x="75" y="256" width="19" height="7" fill="#000"/>
<rect x="76" y="257" width="17" height="1" fill="#fff"/>
<rect x="76" y="257" width="1" height="5" fill="#fff"/>
<rect x="92" y="257" width="1" height="5" fill="#fff"/>
<rect x="82" y="257" width="1" height="5" fill="#fff"/>
<rect x="87" y="257" width="1" height="5" fill="#fff"/>
<rect x="47" y="275" width="31" height="7" fill="#000"/>
<rect x="53" y="276" width="1" height="5" fill="#fff"/>
<rect x="59" y="276" width="1" height="5" fill="#fff"/>
<rect x="65" y="276" width="1" height="5" fill="#fff"/>
<rect x="70" y="276" width="1" height="5" fill="#fff"/>
<rect x="71" y="276" width="1" height="5" fill="#fff"/>
<rect x="76" y="276" width="1" height="5" fill="#fff"/>
<rect x="753" y="328" width="26" height="6" fill="#000"/>
<rect x="754" y="329" width="1" height="4" fill="#fff"/>
<rect x="760" y="329" width="1" height="4" fill="#fff"/>
<rect x="765" y="329" width="1" height="4" fill="#fff"/>
<rect x="766" y="329" width="1" height="4" fill="#fff"/>
<rect x="771" y="329" width="1" height="4" fill="#fff"/>
<rect x="777" y="329" width="1" height="4" fill="#fff"/>
<rect x="759" y="337" width="19" height="7" fill="#000"/>
<rect x="760" y="338" width="1" height="5" fill="#fff"/>
<rect x="765" y="338" width="1" height="5" fill="#fff"/>
<rect x="766" y="338" width="1" height="5" fill="#fff"/>
<rect x="771" y="338" width="1" height="5" fill="#fff"/>
<rect x="148" y="422" width="14" height="7" fill="#000"/>
<rect x="149" y="423" width="1" height="5" fill="#fff"/>
<rect x="154" y="423" width="1" height="5" fill="#fff"/>
<rect x="155" y="423" width="1" height="5" fill="#fff"/>
<rect x="160" y="423" width="1" height="5" fill="#fff"/>
<path d="M289 114 H309 L311 116 V131 L309 133 H289 L287 131 V116 Z" fill="#000"/>
<path d="M290 116 H308 L309 117 V130 L308 131 H290 L289 130 V117 Z" fill="#fff"/>
<path d="M319 142 H339 L341 144 V157 L339 159 H319 L317 157 V144 Z" fill="#000"/>
<path d="M319 143 H337 L338 144 V155 L337 156 H319 L318 155 V144 Z" fill="#fff"/>
<path d="M326 167 H348 L350 169 V184 L348 186 H326 L324 184 V169 Z" fill="#000"/>
<path d="M327 169 H347 L348 170 V183 L347 184 H327 L326 183 V170 Z" fill="#fff"/>
<path d="M288 208 H309 L311 210 V225 L309 227 H288 L286 225 V210 Z" fill="#000"/>
<path d="M289 210 H308 L309 211 V223 L308 224 H289 L288 223 V211 Z" fill="#fff"/>
<path d="M9 250 H31 L33 252 V267 L31 269 H9 L7 267 V252 Z" fill="#000"/>
<path d="M10 253 H29 L30 254 V265 L29 266 H10 L9 265 V254 Z" fill="#fff"/>
<path d="M94 231 H115 L117 233 V248 L115 250 H94 L92 248 V233 Z" fill="#000"/>
<path d="M95 233 H113 L114 234 V246 L113 247 H95 L94 246 V234 Z" fill="#fff"/>
<path d="M95 269 H117 L119 271 V286 L117 288 H95 L93 286 V271 Z" fill="#000"/>
<path d="M96 272 H116 L117 273 V284 L116 285 H96 L95 284 V273 Z" fill="#fff"/>
<path d="M756 293 H778 L780 295 V309 L778 311 H756 L754 309 V295 Z" fill="#000"/>
<path d="M757 295 H776 L777 296 V308 L776 309 H757 L756 308 V296 Z" fill="#fff"/>
<path d="M752 359 H782 L784 361 V376 L782 378 H752 L750 376 V361 Z" fill="#000"/>
<path d="M754 362 H781 L782 363 V375 L781 376 H754 L753 375 V363 Z" fill="#fff"/>
<rect x="299" y="131" width="1" height="9" fill="#fff"/>
<rect x="298" y="131" width="2" height="3" fill="#fff"/>
<path d="M317 153 L308 164 V167 L310 167 L319 157 Z" fill="#000"/>
<rect x="313" y="159" width="1" height="1" fill="#fff"/>
<rect x="312" y="160" width="1" height="1" fill="#fff"/>
<rect x="309" y="175" width="4" height="3" fill="#000"/>
<rect x="313" y="174" width="5" height="5" fill="#000"/>
<rect x="317" y="174" width="4" height="2" fill="#000"/>
<rect x="317" y="177" width="4" height="2" fill="#000"/>
<rect x="321" y="173" width="5" height="2" fill="#000"/>
<rect x="321" y="177" width="5" height="3" fill="#000"/>
<rect x="318" y="176" width="8" height="1" fill="#fff"/>
<rect x="321" y="175" width="5" height="2" fill="#fff"/>
<path d="M298 192 H301 V196 L302 197 V205 L304 208 H296 L297 205 V197 L298 196 Z" fill="#000"/>
<rect x="299" y="203" width="1" height="6" fill="#fff"/>
<rect x="30" y="256" width="5" height="3" fill="#000"/>
<rect x="35" y="257" width="5" height="2" fill="#000"/>
<rect x="40" y="258" width="4" height="4" fill="#000"/>
<rect x="44" y="259" width="4" height="2" fill="#000"/>
<rect x="30" y="260" width="6" height="3" fill="#000"/>
<rect x="36" y="260" width="4" height="2" fill="#000"/>
<rect x="30" y="259" width="9" height="1" fill="#fff"/>
<path d="M92 247 H96 L89 256 H84 Z" fill="#000"/>
<rect x="93" y="248" width="1" height="1" fill="#fff"/>
<rect x="92" y="249" width="1" height="1" fill="#fff"/>
<rect x="91" y="250" width="1" height="1" fill="#fff"/>
<rect x="90" y="251" width="1" height="1" fill="#fff"/>
<rect x="89" y="252" width="1" height="1" fill="#fff"/>
<rect x="88" y="253" width="1" height="1" fill="#fff"/>
<rect x="91" y="275" width="4" height="2" fill="#000"/>
<rect x="86" y="276" width="5" height="2" fill="#000"/>
<rect x="82" y="277" width="4" height="4" fill="#000"/>
<rect x="78" y="278" width="4" height="2" fill="#000"/>
<rect x="86" y="279" width="5" height="2" fill="#000"/>
<rect x="90" y="280" width="5" height="2" fill="#000"/>
<rect x="86" y="278" width="5" height="1" fill="#fff"/>
<rect x="91" y="277" width="4" height="3" fill="#fff"/>
<path d="M763 311 H770 L768 318 L766 328 H765 L764 318 Z" fill="#000"/>
<rect x="766" y="311" width="1" height="4" fill="#fff"/>
<path d="M767 344 H770 V350 L771 359 H764 L766 350 Z" fill="#000"/>
<rect x="768" y="352" width="1" height="7" fill="#fff"/>
<rect x="131" y="422" width="5" height="2" fill="#000"/>
<rect x="135" y="423" width="8" height="5" fill="#000"/>
<rect x="143" y="424" width="5" height="3" fill="#000"/>
<rect x="131" y="426" width="5" height="3" fill="#000"/>
<rect x="131" y="424" width="3" height="2" fill="#fff"/>
<rect x="133" y="425" width="6" height="1" fill="#fff"/>
<rect x="96" y="130" width="4" height="1" fill="#000"/>
<rect x="96" y="131" width="1" height="1" fill="#000"/>
<rect x="100" y="131" width="1" height="1" fill="#000"/>
<rect x="96" y="132" width="1" height="1" fill="#000"/>
<rect x="100" y="132" width="1" height="1" fill="#000"/>
<rect x="96" y="133" width="1" height="1" fill="#000"/>
<rect x="100" y="133" width="1" height="1" fill="#000"/>
<rect x="96" y="134" width="1" height="1" fill="#000"/>
<rect x="100" y="134" width="1" height="1" fill="#000"/>
<rect x="96" y="135" width="4" height="1" fill="#000"/>
<rect x="96" y="136" width="1" height="1" fill="#000"/>
<rect x="100" y="136" width="1" height="1" fill="#000"/>
<rect x="96" y="137" width="1" height="1" fill="#000"/>
<rect x="100" y="137" width="1" height="1" fill="#000"/>
<rect x="96" y="138" width="1" height="1" fill="#000"/>
<rect x="100" y="138" width="1" height="1" fill="#000"/>
<rect x="96" y="139" width="4" height="1" fill="#000"/>
<rect x="106" y="131" width="1" height="1" fill="#000"/>
<rect x="105" y="132" width="1" height="1" fill="#000"/>
<rect x="107" y="132" width="1" height="1" fill="#000"/>
<rect x="105" y="133" width="1" height="1" fill="#000"/>
<rect x="107" y="133" width="1" height="1" fill="#000"/>
<rect x="105" y="134" width="1" height="1" fill="#000"/>
<rect x="107" y="134" width="1" height="1" fill="#000"/>
<rect x="104" y="135" width="5" height="1" fill="#000"/>
<rect x="104" y="136" width="1" height="1" fill="#000"/>
<rect x="108" y="136" width="1" height="1" fill="#000"/>
<rect x="104" y="137" width="1" height="1" fill="#000"/>
<rect x="108" y="137" width="1" height="1" fill="#000"/>
<rect x="104" y="138" width="1" height="1" fill="#000"/>
<rect x="108" y="138" width="1" height="1" fill="#000"/>
<rect x="103" y="139" width="1" height="1" fill="#000"/>
<rect x="109" y="139" width="1" height="1" fill="#000"/>
<rect x="113" y="130" width="1" height="1" fill="#000"/>
<rect x="118" y="130" width="1" height="1" fill="#000"/>
<rect x="113" y="131" width="2" height="1" fill="#000"/>
<rect x="118" y="131" width="1" height="1" fill="#000"/>
<rect x="113" y="132" width="2" height="1" fill="#000"/>
<rect x="118" y="132" width="1" height="1" fill="#000"/>
<rect x="113" y="133" width="1" height="1" fill="#000"/>
<rect x="115" y="133" width="1" height="1" fill="#000"/>
<rect x="118" y="133" width="1" height="1" fill="#000"/>
<rect x="113" y="134" width="1" height="1" fill="#000"/>
<rect x="115" y="134" width="1" height="1" fill="#000"/>
<rect x="118" y="134" width="1" height="1" fill="#000"/>
<rect x="113" y="135" width="1" height="1" fill="#000"/>
<rect x="116" y="135" width="1" height="1" fill="#000"/>
<rect x="118" y="135" width="1" height="1" fill="#000"/>
<rect x="113" y="136" width="1" height="1" fill="#000"/>
<rect x="116" y="136" width="1" height="1" fill="#000"/>
<rect x="118" y="136" width="1" height="1" fill="#000"/>
<rect x="113" y="137" width="1" height="1" fill="#000"/>
<rect x="117" y="137" width="2" height="1" fill="#000"/>
<rect x="113" y="138" width="1" height="1" fill="#000"/>
<rect x="117" y="138" width="2" height="1" fill="#000"/>
<rect x="113" y="139" width="1" height="1" fill="#000"/>
<rect x="118" y="139" width="1" height="1" fill="#000"/>
<rect x="122" y="130" width="1" height="1" fill="#000"/>
<rect x="126" y="130" width="2" height="1" fill="#000"/>
<rect x="122" y="131" width="1" height="1" fill="#000"/>
<rect x="126" y="131" width="1" height="1" fill="#000"/>
<rect x="122" y="132" width="1" height="1" fill="#000"/>
<rect x="125" y="132" width="1" height="1" fill="#000"/>
<rect x="122" y="133" width="1" height="1" fill="#000"/>
<rect x="124" y="133" width="1" height="1" fill="#000"/>
<rect x="122" y="134" width="2" height="1" fill="#000"/>
<rect x="122" y="135" width="1" height="1" fill="#000"/>
<rect x="124" y="135" width="1" height="1" fill="#000"/>
<rect x="122" y="136" width="1" height="1" fill="#000"/>
<rect x="125" y="136" width="1" height="1" fill="#000"/>
<rect x="122" y="137" width="1" height="1" fill="#000"/>
<rect x="125" y="137" width="1" height="1" fill="#000"/>
<rect x="122" y="138" width="1" height="1" fill="#000"/>
<rect x="126" y="138" width="1" height="1" fill="#000"/>
<rect x="122" y="139" width="1" height="1" fill="#000"/>
<rect x="127" y="139" width="1" height="1" fill="#000"/>
<rect x="139" y="131" width="1" height="1" fill="#000"/>
<rect x="139" y="132" width="1" height="1" fill="#000"/>
<rect x="137" y="133" width="3" height="1" fill="#000"/>
<rect x="139" y="134" width="1" height="1" fill="#000"/>
<rect x="139" y="135" width="1" height="1" fill="#000"/>
<rect x="139" y="136" width="1" height="1" fill="#000"/>
<rect x="139" y="137" width="1" height="1" fill="#000"/>
<rect x="139" y="138" width="1" height="1" fill="#000"/>
<rect x="139" y="139" width="1" height="1" fill="#000"/>
<rect x="207" y="130" width="4" height="1" fill="#000"/>
<rect x="207" y="131" width="1" height="1" fill="#000"/>
<rect x="211" y="131" width="1" height="1" fill="#000"/>
<rect x="207" y="132" width="1" height="1" fill="#000"/>
<rect x="211" y="132" width="1" height="1" fill="#000"/>
<rect x="207" y="133" width="1" height="1" fill="#000"/>
<rect x="211" y="133" width="1" height="1" fill="#000"/>
<rect x="207" y="134" width="1" height="1" fill="#000"/>
<rect x="211" y="134" width="1" height="1" fill="#000"/>
<rect x="207" y="135" width="4" height="1" fill="#000"/>
<rect x="207" y="136" width="1" height="1" fill="#000"/>
<rect x="211" y="136" width="1" height="1" fill="#000"/>
<rect x="207" y="137" width="1" height="1" fill="#000"/>
<rect x="211" y="137" width="1" height="1" fill="#000"/>
<rect x="207" y="138" width="1" height="1" fill="#000"/>
<rect x="211" y="138" width="1" height="1" fill="#000"/>
<rect x="207" y="139" width="4" height="1" fill="#000"/>
<rect x="218" y="131" width="1" height="1" fill="#000"/>
<rect x="217" y="132" width="1" height="1" fill="#000"/>
<rect x="219" y="132" width="1" height="1" fill="#000"/>
<rect x="217" y="133" width="1" height="1" fill="#000"/>
<rect x="219" y="133" width="1" height="1" fill="#000"/>
<rect x="217" y="134" width="1" height="1" fill="#000"/>
<rect x="219" y="134" width="1" height="1" fill="#000"/>
<rect x="216" y="135" width="5" height="1" fill="#000"/>
<rect x="216" y="136" width="1" height="1" fill="#000"/>
<rect x="220" y="136" width="1" height="1" fill="#000"/>
<rect x="216" y="137" width="1" height="1" fill="#000"/>
<rect x="220" y="137" width="1" height="1" fill="#000"/>
<rect x="216" y="138" width="1" height="1" fill="#000"/>
<rect x="220" y="138" width="1" height="1" fill="#000"/>
<rect x="215" y="139" width="1" height="1" fill="#000"/>
<rect x="221" y="139" width="1" height="1" fill="#000"/>
<rect x="224" y="130" width="1" height="1" fill="#000"/>
<rect x="229" y="130" width="1" height="1" fill="#000"/>
<rect x="224" y="131" width="2" height="1" fill="#000"/>
<rect x="229" y="131" width="1" height="1" fill="#000"/>
<rect x="224" y="132" width="2" height="1" fill="#000"/>
<rect x="229" y="132" width="1" height="1" fill="#000"/>
<rect x="224" y="133" width="1" height="1" fill="#000"/>
<rect x="226" y="133" width="1" height="1" fill="#000"/>
<rect x="229" y="133" width="1" height="1" fill="#000"/>
<rect x="224" y="134" width="1" height="1" fill="#000"/>
<rect x="226" y="134" width="1" height="1" fill="#000"/>
<rect x="229" y="134" width="1" height="1" fill="#000"/>
<rect x="224" y="135" width="1" height="1" fill="#000"/>
<rect x="227" y="135" width="1" height="1" fill="#000"/>
<rect x="229" y="135" width="1" height="1" fill="#000"/>
<rect x="224" y="136" width="1" height="1" fill="#000"/>
<rect x="227" y="136" width="1" height="1" fill="#000"/>
<rect x="229" y="136" width="1" height="1" fill="#000"/>
<rect x="224" y="137" width="1" height="1" fill="#000"/>
<rect x="228" y="137" width="2" height="1" fill="#000"/>
<rect x="224" y="138" width="1" height="1" fill="#000"/>
<rect x="228" y="138" width="2" height="1" fill="#000"/>
<rect x="224" y="139" width="1" height="1" fill="#000"/>
<rect x="229" y="139" width="1" height="1" fill="#000"/>
<rect x="234" y="130" width="1" height="1" fill="#000"/>
<rect x="238" y="130" width="2" height="1" fill="#000"/>
<rect x="234" y="131" width="1" height="1" fill="#000"/>
<rect x="238" y="131" width="1" height="1" fill="#000"/>
<rect x="234" y="132" width="1" height="1" fill="#000"/>
<rect x="237" y="132" width="1" height="1" fill="#000"/>
<rect x="234" y="133" width="1" height="1" fill="#000"/>
<rect x="236" y="133" width="1" height="1" fill="#000"/>
<rect x="234" y="134" width="2" height="1" fill="#000"/>
<rect x="234" y="135" width="1" height="1" fill="#000"/>
<rect x="236" y="135" width="1" height="1" fill="#000"/>
<rect x="234" y="136" width="1" height="1" fill="#000"/>
<rect x="237" y="136" width="1" height="1" fill="#000"/>
<rect x="234" y="137" width="1" height="1" fill="#000"/>
<rect x="237" y="137" width="1" height="1" fill="#000"/>
<rect x="234" y="138" width="1" height="1" fill="#000"/>
<rect x="238" y="138" width="1" height="1" fill="#000"/>
<rect x="234" y="139" width="1" height="1" fill="#000"/>
<rect x="239" y="139" width="1" height="1" fill="#000"/>
<rect x="249" y="131" width="1" height="1" fill="#000"/>
<rect x="248" y="132" width="1" height="1" fill="#000"/>
<rect x="250" y="132" width="1" height="1" fill="#000"/>
<rect x="247" y="133" width="1" height="1" fill="#000"/>
<rect x="251" y="133" width="1" height="1" fill="#000"/>
<rect x="247" y="134" width="1" height="1" fill="#000"/>
<rect x="251" y="134" width="1" height="1" fill="#000"/>
<rect x="247" y="135" width="1" height="1" fill="#000"/>
<rect x="251" y="135" width="1" height="1" fill="#000"/>
<rect x="247" y="136" width="1" height="1" fill="#000"/>
<rect x="251" y="136" width="1" height="1" fill="#000"/>
<rect x="247" y="137" width="1" height="1" fill="#000"/>
<rect x="251" y="137" width="1" height="1" fill="#000"/>
<rect x="248" y="138" width="1" height="1" fill="#000"/>
<rect x="250" y="138" width="1" height="1" fill="#000"/>
<rect x="249" y="139" width="1" height="1" fill="#000"/>
<rect x="323" y="75" width="4" height="1" fill="#000"/>
<rect x="323" y="76" width="1" height="1" fill="#000"/>
<rect x="327" y="76" width="1" height="1" fill="#000"/>
<rect x="323" y="77" width="1" height="1" fill="#000"/>
<rect x="327" y="77" width="1" height="1" fill="#000"/>
<rect x="323" y="78" width="1" height="1" fill="#000"/>
<rect x="327" y="78" width="1" height="1" fill="#000"/>
<rect x="323" y="79" width="1" height="1" fill="#000"/>
<rect x="327" y="79" width="1" height="1" fill="#000"/>
<rect x="323" y="80" width="4" height="1" fill="#000"/>
<rect x="323" y="81" width="1" height="1" fill="#000"/>
<rect x="327" y="81" width="1" height="1" fill="#000"/>
<rect x="323" y="82" width="1" height="1" fill="#000"/>
<rect x="327" y="82" width="1" height="1" fill="#000"/>
<rect x="323" y="83" width="1" height="1" fill="#000"/>
<rect x="327" y="83" width="1" height="1" fill="#000"/>
<rect x="323" y="84" width="4" height="1" fill="#000"/>
<rect x="332" y="75" width="1" height="1" fill="#000"/>
<rect x="332" y="76" width="1" height="1" fill="#000"/>
<rect x="332" y="77" width="1" height="1" fill="#000"/>
<rect x="332" y="78" width="1" height="1" fill="#000"/>
<rect x="332" y="79" width="1" height="1" fill="#000"/>
<rect x="332" y="80" width="1" height="1" fill="#000"/>
<rect x="332" y="81" width="1" height="1" fill="#000"/>
<rect x="332" y="82" width="1" height="1" fill="#000"/>
<rect x="332" y="83" width="1" height="1" fill="#000"/>
<rect x="332" y="84" width="1" height="1" fill="#000"/>
<rect x="338" y="75" width="4" height="1" fill="#000"/>
<rect x="337" y="76" width="1" height="1" fill="#000"/>
<rect x="342" y="76" width="1" height="1" fill="#000"/>
<rect x="336" y="77" width="1" height="1" fill="#000"/>
<rect x="343" y="77" width="1" height="1" fill="#000"/>
<rect x="336" y="78" width="1" height="1" fill="#000"/>
<rect x="343" y="78" width="1" height="1" fill="#000"/>
<rect x="336" y="79" width="1" height="1" fill="#000"/>
<rect x="343" y="79" width="1" height="1" fill="#000"/>
<rect x="336" y="80" width="1" height="1" fill="#000"/>
<rect x="343" y="80" width="1" height="1" fill="#000"/>
<rect x="336" y="81" width="1" height="1" fill="#000"/>
<rect x="343" y="81" width="1" height="1" fill="#000"/>
<rect x="336" y="82" width="1" height="1" fill="#000"/>
<rect x="343" y="82" width="1" height="1" fill="#000"/>
<rect x="337" y="83" width="1" height="1" fill="#000"/>
<rect x="342" y="83" width="1" height="1" fill="#000"/>
<rect x="338" y="84" width="4" height="1" fill="#000"/>
<rect x="347" y="75" width="4" height="1" fill="#000"/>
<rect x="346" y="76" width="1" height="1" fill="#000"/>
<rect x="351" y="76" width="1" height="1" fill="#000"/>
<rect x="346" y="77" width="1" height="1" fill="#000"/>
<rect x="351" y="77" width="1" height="1" fill="#000"/>
<rect x="346" y="78" width="1" height="1" fill="#000"/>
<rect x="347" y="79" width="1" height="1" fill="#000"/>
<rect x="348" y="80" width="2" height="1" fill="#000"/>
<rect x="350" y="81" width="1" height="1" fill="#000"/>
<rect x="346" y="82" width="1" height="1" fill="#000"/>
<rect x="351" y="82" width="1" height="1" fill="#000"/>
<rect x="346" y="83" width="1" height="1" fill="#000"/>
<rect x="351" y="83" width="1" height="1" fill="#000"/>
<rect x="347" y="84" width="4" height="1" fill="#000"/>
<rect x="323" y="121" width="4" height="1" fill="#000"/>
<rect x="323" y="122" width="1" height="1" fill="#000"/>
<rect x="327" y="122" width="1" height="1" fill="#000"/>
<rect x="323" y="123" width="1" height="1" fill="#000"/>
<rect x="327" y="123" width="1" height="1" fill="#000"/>
<rect x="323" y="124" width="1" height="1" fill="#000"/>
<rect x="327" y="124" width="1" height="1" fill="#000"/>
<rect x="323" y="125" width="1" height="1" fill="#000"/>
<rect x="327" y="125" width="1" height="1" fill="#000"/>
<rect x="323" y="126" width="4" height="1" fill="#000"/>
<rect x="323" y="127" width="1" height="1" fill="#000"/>
<rect x="327" y="127" width="1" height="1" fill="#000"/>
<rect x="323" y="128" width="1" height="1" fill="#000"/>
<rect x="327" y="128" width="1" height="1" fill="#000"/>
<rect x="323" y="129" width="1" height="1" fill="#000"/>
<rect x="327" y="129" width="1" height="1" fill="#000"/>
<rect x="323" y="130" width="4" height="1" fill="#000"/>
<rect x="332" y="121" width="1" height="1" fill="#000"/>
<rect x="332" y="122" width="1" height="1" fill="#000"/>
<rect x="332" y="123" width="1" height="1" fill="#000"/>
<rect x="332" y="124" width="1" height="1" fill="#000"/>
<rect x="332" y="125" width="1" height="1" fill="#000"/>
<rect x="332" y="126" width="1" height="1" fill="#000"/>
<rect x="332" y="127" width="1" height="1" fill="#000"/>
<rect x="332" y="128" width="1" height="1" fill="#000"/>
<rect x="332" y="129" width="1" height="1" fill="#000"/>
<rect x="332" y="130" width="1" height="1" fill="#000"/>
<rect x="338" y="121" width="4" height="1" fill="#000"/>
<rect x="337" y="122" width="1" height="1" fill="#000"/>
<rect x="342" y="122" width="1" height="1" fill="#000"/>
<rect x="336" y="123" width="1" height="1" fill="#000"/>
<rect x="343" y="123" width="1" height="1" fill="#000"/>
<rect x="336" y="124" width="1" height="1" fill="#000"/>
<rect x="343" y="124" width="1" height="1" fill="#000"/>
<rect x="336" y="125" width="1" height="1" fill="#000"/>
<rect x="343" y="125" width="1" height="1" fill="#000"/>
<rect x="336" y="126" width="1" height="1" fill="#000"/>
<rect x="343" y="126" width="1" height="1" fill="#000"/>
<rect x="336" y="127" width="1" height="1" fill="#000"/>
<rect x="343" y="127" width="1" height="1" fill="#000"/>
<rect x="336" y="128" width="1" height="1" fill="#000"/>
<rect x="343" y="128" width="1" height="1" fill="#000"/>
<rect x="337" y="129" width="1" height="1" fill="#000"/>
<rect x="342" y="129" width="1" height="1" fill="#000"/>
<rect x="338" y="130" width="4" height="1" fill="#000"/>
<rect x="347" y="121" width="4" height="1" fill="#000"/>
<rect x="346" y="122" width="1" height="1" fill="#000"/>
<rect x="351" y="122" width="1" height="1" fill="#000"/>
<rect x="346" y="123" width="1" height="1" fill="#000"/>
<rect x="351" y="123" width="1" height="1" fill="#000"/>
<rect x="346" y="124" width="1" height="1" fill="#000"/>
<rect x="347" y="125" width="1" height="1" fill="#000"/>
<rect x="348" y="126" width="2" height="1" fill="#000"/>
<rect x="350" y="127" width="1" height="1" fill="#000"/>
<rect x="346" y="128" width="1" height="1" fill="#000"/>
<rect x="351" y="128" width="1" height="1" fill="#000"/>
<rect x="346" y="129" width="1" height="1" fill="#000"/>
<rect x="351" y="129" width="1" height="1" fill="#000"/>
<rect x="347" y="130" width="4" height="1" fill="#000"/>
<rect x="248" y="320" width="3" height="1" fill="#000"/>
<rect x="247" y="321" width="1" height="1" fill="#000"/>
<rect x="251" y="321" width="1" height="1" fill="#000"/>
<rect x="246" y="322" width="1" height="1" fill="#000"/>
<rect x="251" y="322" width="1" height="1" fill="#000"/>
<rect x="246" y="323" width="1" height="1" fill="#000"/>
<rect x="246" y="324" width="1" height="1" fill="#000"/>
<rect x="246" y="325" width="1" height="1" fill="#000"/>
<rect x="246" y="326" width="1" height="1" fill="#000"/>
<rect x="246" y="327" width="1" height="1" fill="#000"/>
<rect x="251" y="327" width="1" height="1" fill="#000"/>
<rect x="247" y="328" width="1" height="1" fill="#000"/>
<rect x="251" y="328" width="1" height="1" fill="#000"/>
<rect x="248" y="329" width="3" height="1" fill="#000"/>
<rect x="256" y="320" width="4" height="1" fill="#000"/>
<rect x="256" y="321" width="1" height="1" fill="#000"/>
<rect x="260" y="321" width="1" height="1" fill="#000"/>
<rect x="256" y="322" width="1" height="1" fill="#000"/>
<rect x="260" y="322" width="1" height="1" fill="#000"/>
<rect x="256" y="323" width="1" height="1" fill="#000"/>
<rect x="260" y="323" width="1" height="1" fill="#000"/>
<rect x="256" y="324" width="1" height="1" fill="#000"/>
<rect x="260" y="324" width="1" height="1" fill="#000"/>
<rect x="256" y="325" width="4" height="1" fill="#000"/>
<rect x="256" y="326" width="1" height="1" fill="#000"/>
<rect x="256" y="327" width="1" height="1" fill="#000"/>
<rect x="256" y="328" width="1" height="1" fill="#000"/>
<rect x="256" y="329" width="1" height="1" fill="#000"/>
<rect x="265" y="320" width="1" height="1" fill="#000"/>
<rect x="270" y="320" width="1" height="1" fill="#000"/>
<rect x="265" y="321" width="1" height="1" fill="#000"/>
<rect x="270" y="321" width="1" height="1" fill="#000"/>
<rect x="265" y="322" width="1" height="1" fill="#000"/>
<rect x="270" y="322" width="1" height="1" fill="#000"/>
<rect x="265" y="323" width="1" height="1" fill="#000"/>
<rect x="270" y="323" width="1" height="1" fill="#000"/>
<rect x="265" y="324" width="1" height="1" fill="#000"/>
<rect x="270" y="324" width="1" height="1" fill="#000"/>
<rect x="265" y="325" width="1" height="1" fill="#000"/>
<rect x="270" y="325" width="1" height="1" fill="#000"/>
<rect x="265" y="326" width="1" height="1" fill="#000"/>
<rect x="270" y="326" width="1" height="1" fill="#000"/>
<rect x="265" y="327" width="1" height="1" fill="#000"/>
<rect x="270" y="327" width="1" height="1" fill="#000"/>
<rect x="266" y="328" width="1" height="1" fill="#000"/>
<rect x="269" y="328" width="1" height="1" fill="#000"/>
<rect x="267" y="329" width="2" height="1" fill="#000"/>
<rect x="449" y="432" width="1" height="1" fill="#000"/>
<rect x="453" y="432" width="2" height="1" fill="#000"/>
<rect x="449" y="433" width="1" height="1" fill="#000"/>
<rect x="453" y="433" width="1" height="1" fill="#000"/>
<rect x="449" y="434" width="1" height="1" fill="#000"/>
<rect x="452" y="434" width="1" height="1" fill="#000"/>
<rect x="449" y="435" width="1" height="1" fill="#000"/>
<rect x="451" y="435" width="1" height="1" fill="#000"/>
<rect x="449" y="436" width="2" height="1" fill="#000"/>
<rect x="449" y="437" width="1" height="1" fill="#000"/>
<rect x="451" y="437" width="1" height="1" fill="#000"/>
<rect x="449" y="438" width="1" height="1" fill="#000"/>
<rect x="452" y="438" width="1" height="1" fill="#000"/>
<rect x="449" y="439" width="1" height="1" fill="#000"/>
<rect x="452" y="439" width="1" height="1" fill="#000"/>
<rect x="449" y="440" width="1" height="1" fill="#000"/>
<rect x="453" y="440" width="1" height="1" fill="#000"/>
<rect x="449" y="441" width="1" height="1" fill="#000"/>
<rect x="454" y="441" width="1" height="1" fill="#000"/>
<rect x="458" y="432" width="4" height="1" fill="#000"/>
<rect x="458" y="433" width="1" height="1" fill="#000"/>
<rect x="462" y="433" width="1" height="1" fill="#000"/>
<rect x="458" y="434" width="1" height="1" fill="#000"/>
<rect x="462" y="434" width="1" height="1" fill="#000"/>
<rect x="458" y="435" width="1" height="1" fill="#000"/>
<rect x="462" y="435" width="1" height="1" fill="#000"/>
<rect x="458" y="436" width="1" height="1" fill="#000"/>
<rect x="462" y="436" width="1" height="1" fill="#000"/>
<rect x="458" y="437" width="4" height="1" fill="#000"/>
<rect x="458" y="438" width="1" height="1" fill="#000"/>
<rect x="462" y="438" width="1" height="1" fill="#000"/>
<rect x="458" y="439" width="1" height="1" fill="#000"/>
<rect x="462" y="439" width="1" height="1" fill="#000"/>
<rect x="458" y="440" width="1" height="1" fill="#000"/>
<rect x="462" y="440" width="1" height="1" fill="#000"/>
<rect x="458" y="441" width="4" height="1" fill="#000"/>
<rect x="467" y="432" width="4" height="1" fill="#000"/>
<rect x="467" y="433" width="1" height="1" fill="#000"/>
<rect x="471" y="433" width="1" height="1" fill="#000"/>
<rect x="467" y="434" width="1" height="1" fill="#000"/>
<rect x="472" y="434" width="1" height="1" fill="#000"/>
<rect x="467" y="435" width="1" height="1" fill="#000"/>
<rect x="472" y="435" width="1" height="1" fill="#000"/>
<rect x="467" y="436" width="1" height="1" fill="#000"/>
<rect x="472" y="436" width="1" height="1" fill="#000"/>
<rect x="467" y="437" width="1" height="1" fill="#000"/>
<rect x="472" y="437" width="1" height="1" fill="#000"/>
<rect x="467" y="438" width="1" height="1" fill="#000"/>
<rect x="472" y="438" width="1" height="1" fill="#000"/>
<rect x="467" y="439" width="1" height="1" fill="#000"/>
<rect x="472" y="439" width="1" height="1" fill="#000"/>
<rect x="467" y="440" width="1" height="1" fill="#000"/>
<rect x="471" y="440" width="1" height="1" fill="#000"/>
<rect x="467" y="441" width="4" height="1" fill="#000"/>
<rect x="83" y="386" width="1" height="1" fill="#000"/>
<rect x="88" y="386" width="1" height="1" fill="#000"/>
<rect x="83" y="387" width="2" height="1" fill="#000"/>
<rect x="88" y="387" width="1" height="1" fill="#000"/>
<rect x="83" y="388" width="2" height="1" fill="#000"/>
<rect x="88" y="388" width="1" height="1" fill="#000"/>
<rect x="83" y="389" width="1" height="1" fill="#000"/>
<rect x="85" y="389" width="1" height="1" fill="#000"/>
<rect x="88" y="389" width="1" height="1" fill="#000"/>
<rect x="83" y="390" width="1" height="1" fill="#000"/>
<rect x="85" y="390" width="1" height="1" fill="#000"/>
<rect x="88" y="390" width="1" height="1" fill="#000"/>
<rect x="83" y="391" width="1" height="1" fill="#000"/>
<rect x="86" y="391" width="1" height="1" fill="#000"/>
<rect x="88" y="391" width="1" height="1" fill="#000"/>
<rect x="83" y="392" width="1" height="1" fill="#000"/>
<rect x="86" y="392" width="1" height="1" fill="#000"/>
<rect x="88" y="392" width="1" height="1" fill="#000"/>
<rect x="83" y="393" width="1" height="1" fill="#000"/>
<rect x="87" y="393" width="2" height="1" fill="#000"/>
<rect x="83" y="394" width="1" height="1" fill="#000"/>
<rect x="87" y="394" width="2" height="1" fill="#000"/>
<rect x="83" y="395" width="1" height="1" fill="#000"/>
<rect x="88" y="395" width="1" height="1" fill="#000"/>
<rect x="93" y="386" width="4" height="1" fill="#000"/>
<rect x="93" y="387" width="1" height="1" fill="#000"/>
<rect x="97" y="387" width="1" height="1" fill="#000"/>
<rect x="93" y="388" width="1" height="1" fill="#000"/>
<rect x="97" y="388" width="1" height="1" fill="#000"/>
<rect x="93" y="389" width="1" height="1" fill="#000"/>
<rect x="97" y="389" width="1" height="1" fill="#000"/>
<rect x="93" y="390" width="1" height="1" fill="#000"/>
<rect x="97" y="390" width="1" height="1" fill="#000"/>
<rect x="93" y="391" width="4" height="1" fill="#000"/>
<rect x="93" y="392" width="1" height="1" fill="#000"/>
<rect x="93" y="393" width="1" height="1" fill="#000"/>
<rect x="93" y="394" width="1" height="1" fill="#000"/>
<rect x="93" y="395" width="1" height="1" fill="#000"/>
<rect x="101" y="386" width="1" height="1" fill="#000"/>
<rect x="106" y="386" width="1" height="1" fill="#000"/>
<rect x="101" y="387" width="1" height="1" fill="#000"/>
<rect x="106" y="387" width="1" height="1" fill="#000"/>
<rect x="101" y="388" width="1" height="1" fill="#000"/>
<rect x="106" y="388" width="1" height="1" fill="#000"/>
<rect x="101" y="389" width="1" height="1" fill="#000"/>
<rect x="106" y="389" width="1" height="1" fill="#000"/>
<rect x="101" y="390" width="1" height="1" fill="#000"/>
<rect x="106" y="390" width="1" height="1" fill="#000"/>
<rect x="101" y="391" width="1" height="1" fill="#000"/>
<rect x="106" y="391" width="1" height="1" fill="#000"/>
<rect x="101" y="392" width="1" height="1" fill="#000"/>
<rect x="106" y="392" width="1" height="1" fill="#000"/>
<rect x="101" y="393" width="1" height="1" fill="#000"/>
<rect x="106" y="393" width="1" height="1" fill="#000"/>
<rect x="102" y="394" width="1" height="1" fill="#000"/>
<rect x="105" y="394" width="1" height="1" fill="#000"/>
<rect x="103" y="395" width="2" height="1" fill="#000"/>
<rect x="107" y="419" width="1" height="1" fill="#000"/>
<rect x="107" y="420" width="1" height="1" fill="#000"/>
<rect x="107" y="421" width="1" height="1" fill="#000"/>
<rect x="107" y="422" width="1" height="1" fill="#000"/>
<rect x="107" y="423" width="1" height="1" fill="#000"/>
<rect x="107" y="424" width="1" height="1" fill="#000"/>
<rect x="107" y="425" width="1" height="1" fill="#000"/>
<rect x="104" y="426" width="1" height="1" fill="#000"/>
<rect x="107" y="426" width="1" height="1" fill="#000"/>
<rect x="104" y="427" width="1" height="1" fill="#000"/>
<rect x="107" y="427" width="1" height="1" fill="#000"/>
<rect x="105" y="428" width="2" height="1" fill="#000"/>
<rect x="112" y="419" width="4" height="1" fill="#000"/>
<rect x="112" y="420" width="1" height="1" fill="#000"/>
<rect x="116" y="420" width="1" height="1" fill="#000"/>
<rect x="112" y="421" width="1" height="1" fill="#000"/>
<rect x="116" y="421" width="1" height="1" fill="#000"/>
<rect x="112" y="422" width="1" height="1" fill="#000"/>
<rect x="116" y="422" width="1" height="1" fill="#000"/>
<rect x="112" y="423" width="1" height="1" fill="#000"/>
<rect x="116" y="423" width="1" height="1" fill="#000"/>
<rect x="112" y="424" width="4" height="1" fill="#000"/>
<rect x="112" y="425" width="1" height="1" fill="#000"/>
<rect x="112" y="426" width="1" height="1" fill="#000"/>
<rect x="112" y="427" width="1" height="1" fill="#000"/>
<rect x="112" y="428" width="1" height="1" fill="#000"/>
<rect x="123" y="420" width="1" height="1" fill="#000"/>
<rect x="123" y="421" width="1" height="1" fill="#000"/>
<rect x="121" y="422" width="3" height="1" fill="#000"/>
<rect x="123" y="423" width="1" height="1" fill="#000"/>
<rect x="123" y="424" width="1" height="1" fill="#000"/>
<rect x="123" y="425" width="1" height="1" fill="#000"/>
<rect x="123" y="426" width="1" height="1" fill="#000"/>
<rect x="123" y="427" width="1" height="1" fill="#000"/>
<rect x="123" y="428" width="1" height="1" fill="#000"/>
<rect x="755" y="363" width="4" height="1" fill="#000"/>
<rect x="754" y="364" width="1" height="1" fill="#000"/>
<rect x="759" y="364" width="1" height="1" fill="#000"/>
<rect x="754" y="365" width="1" height="1" fill="#000"/>
<rect x="759" y="365" width="1" height="1" fill="#000"/>
<rect x="754" y="366" width="1" height="1" fill="#000"/>
<rect x="755" y="367" width="1" height="1" fill="#000"/>
<rect x="756" y="368" width="2" height="1" fill="#000"/>
<rect x="758" y="369" width="1" height="1" fill="#000"/>
<rect x="754" y="370" width="1" height="1" fill="#000"/>
<rect x="759" y="370" width="1" height="1" fill="#000"/>
<rect x="754" y="371" width="1" height="1" fill="#000"/>
<rect x="759" y="371" width="1" height="1" fill="#000"/>
<rect x="755" y="372" width="4" height="1" fill="#000"/>
<rect x="763" y="363" width="1" height="1" fill="#000"/>
<rect x="767" y="363" width="1" height="1" fill="#000"/>
<rect x="771" y="363" width="1" height="1" fill="#000"/>
<rect x="763" y="364" width="1" height="1" fill="#000"/>
<rect x="767" y="364" width="1" height="1" fill="#000"/>
<rect x="771" y="364" width="1" height="1" fill="#000"/>
<rect x="763" y="365" width="1" height="1" fill="#000"/>
<rect x="767" y="365" width="1" height="1" fill="#000"/>
<rect x="771" y="365" width="1" height="1" fill="#000"/>
<rect x="763" y="366" width="1" height="1" fill="#000"/>
<rect x="767" y="366" width="1" height="1" fill="#000"/>
<rect x="771" y="366" width="1" height="1" fill="#000"/>
<rect x="764" y="367" width="1" height="1" fill="#000"/>
<rect x="766" y="367" width="1" height="1" fill="#000"/>
<rect x="768" y="367" width="1" height="1" fill="#000"/>
<rect x="770" y="367" width="1" height="1" fill="#000"/>
<rect x="764" y="368" width="1" height="1" fill="#000"/>
<rect x="766" y="368" width="1" height="1" fill="#000"/>
<rect x="768" y="368" width="1" height="1" fill="#000"/>
<rect x="770" y="368" width="1" height="1" fill="#000"/>
<rect x="764" y="369" width="1" height="1" fill="#000"/>
<rect x="766" y="369" width="1" height="1" fill="#000"/>
<rect x="768" y="369" width="1" height="1" fill="#000"/>
<rect x="770" y="369" width="1" height="1" fill="#000"/>
<rect x="764" y="370" width="1" height="1" fill="#000"/>
<rect x="766" y="370" width="1" height="1" fill="#000"/>
<rect x="768" y="370" width="1" height="1" fill="#000"/>
<rect x="770" y="370" width="1" height="1" fill="#000"/>
<rect x="765" y="371" width="1" height="1" fill="#000"/>
<rect x="769" y="371" width="1" height="1" fill="#000"/>
<rect x="765" y="372" width="1" height="1" fill="#000"/>
<rect x="769" y="372" width="1" height="1" fill="#000"/>
<rect x="777" y="364" width="1" height="1" fill="#000"/>
<rect x="777" y="365" width="1" height="1" fill="#000"/>
<rect x="775" y="366" width="3" height="1" fill="#000"/>
<rect x="777" y="367" width="1" height="1" fill="#000"/>
<rect x="777" y="368" width="1" height="1" fill="#000"/>
<rect x="777" y="369" width="1" height="1" fill="#000"/>
<rect x="777" y="370" width="1" height="1" fill="#000"/>
<rect x="777" y="371" width="1" height="1" fill="#000"/>
<rect x="777" y="372" width="1" height="1" fill="#000"/>
<rect x="623" y="41" width="1" height="1" fill="#000"/>
<rect x="628" y="41" width="1" height="1" fill="#000"/>
<rect x="623" y="42" width="2" height="1" fill="#000"/>
<rect x="627" y="42" width="2" height="1" fill="#000"/>
<rect x="623" y="43" width="2" height="1" fill="#000"/>
<rect x="627" y="43" width="2" height="1" fill="#000"/>
<rect x="623" y="44" width="2" height="1" fill="#000"/>
<rect x="627" y="44" width="2" height="1" fill="#000"/>
<rect x="623" y="45" width="2" height="1" fill="#000"/>
<rect x="627" y="45" width="2" height="1" fill="#000"/>
<rect x="623" y="46" width="2" height="1" fill="#000"/>
<rect x="627" y="46" width="2" height="1" fill="#000"/>
<rect x="623" y="47" width="1" height="1" fill="#000"/>
<rect x="625" y="47" width="2" height="1" fill="#000"/>
<rect x="628" y="47" width="1" height="1" fill="#000"/>
<rect x="623" y="48" width="1" height="1" fill="#000"/>
<rect x="625" y="48" width="2" height="1" fill="#000"/>
<rect x="628" y="48" width="1" height="1" fill="#000"/>
<rect x="623" y="49" width="1" height="1" fill="#000"/>
<rect x="625" y="49" width="1" height="1" fill="#000"/>
<rect x="628" y="49" width="1" height="1" fill="#000"/>
<rect x="632" y="41" width="1" height="1" fill="#000"/>
<rect x="636" y="41" width="1" height="1" fill="#000"/>
<rect x="632" y="42" width="1" height="1" fill="#000"/>
<rect x="636" y="42" width="1" height="1" fill="#000"/>
<rect x="632" y="43" width="1" height="1" fill="#000"/>
<rect x="636" y="43" width="1" height="1" fill="#000"/>
<rect x="632" y="44" width="1" height="1" fill="#000"/>
<rect x="636" y="44" width="1" height="1" fill="#000"/>
<rect x="632" y="45" width="5" height="1" fill="#000"/>
<rect x="632" y="46" width="1" height="1" fill="#000"/>
<rect x="636" y="46" width="1" height="1" fill="#000"/>
<rect x="632" y="47" width="1" height="1" fill="#000"/>
<rect x="636" y="47" width="1" height="1" fill="#000"/>
<rect x="632" y="48" width="1" height="1" fill="#000"/>
<rect x="636" y="48" width="1" height="1" fill="#000"/>
<rect x="632" y="49" width="1" height="1" fill="#000"/>
<rect x="636" y="49" width="1" height="1" fill="#000"/>
<rect x="642" y="42" width="1" height="1" fill="#000"/>
<rect x="642" y="43" width="1" height="1" fill="#000"/>
<rect x="640" y="44" width="3" height="1" fill="#000"/>
<rect x="642" y="45" width="1" height="1" fill="#000"/>
<rect x="642" y="46" width="1" height="1" fill="#000"/>
<rect x="642" y="47" width="1" height="1" fill="#000"/>
<rect x="642" y="48" width="1" height="1" fill="#000"/>
<rect x="642" y="49" width="1" height="1" fill="#000"/>
<rect x="647" y="42" width="3" height="1" fill="#000"/>
<rect x="646" y="43" width="1" height="1" fill="#000"/>
<rect x="650" y="43" width="1" height="1" fill="#000"/>
<rect x="646" y="44" width="1" height="1" fill="#000"/>
<rect x="650" y="44" width="1" height="1" fill="#000"/>
<rect x="650" y="45" width="1" height="1" fill="#000"/>
<rect x="648" y="46" width="2" height="1" fill="#000"/>
<rect x="647" y="47" width="1" height="1" fill="#000"/>
<rect x="646" y="48" width="1" height="1" fill="#000"/>
<rect x="646" y="49" width="5" height="1" fill="#000"/>
<rect x="656" y="42" width="1" height="1" fill="#000"/>
<rect x="655" y="43" width="2" height="1" fill="#000"/>
<rect x="655" y="44" width="2" height="1" fill="#000"/>
<rect x="654" y="45" width="1" height="1" fill="#000"/>
<rect x="656" y="45" width="1" height="1" fill="#000"/>
<rect x="653" y="46" width="1" height="1" fill="#000"/>
<rect x="656" y="46" width="1" height="1" fill="#000"/>
<rect x="653" y="47" width="5" height="1" fill="#000"/>
<rect x="656" y="48" width="1" height="1" fill="#000"/>
<rect x="656" y="49" width="1" height="1" fill="#000"/>
<rect x="661" y="42" width="4" height="1" fill="#000"/>
<rect x="660" y="43" width="1" height="1" fill="#000"/>
<rect x="665" y="43" width="1" height="1" fill="#000"/>
<rect x="665" y="44" width="1" height="1" fill="#000"/>
<rect x="662" y="45" width="3" height="1" fill="#000"/>
<rect x="665" y="46" width="1" height="1" fill="#000"/>
<rect x="660" y="47" width="1" height="1" fill="#000"/>
<rect x="665" y="47" width="1" height="1" fill="#000"/>
<rect x="660" y="48" width="1" height="1" fill="#000"/>
<rect x="665" y="48" width="1" height="1" fill="#000"/>
<rect x="661" y="49" width="4" height="1" fill="#000"/>
<rect x="296" y="118" width="1" height="1" fill="#000"/>
<rect x="296" y="119" width="1" height="1" fill="#000"/>
<rect x="296" y="120" width="1" height="1" fill="#000"/>
<rect x="296" y="121" width="1" height="1" fill="#000"/>
<rect x="296" y="122" width="1" height="1" fill="#000"/>
<rect x="296" y="123" width="1" height="1" fill="#000"/>
<rect x="293" y="124" width="1" height="1" fill="#000"/>
<rect x="296" y="124" width="1" height="1" fill="#000"/>
<rect x="293" y="125" width="1" height="1" fill="#000"/>
<rect x="296" y="125" width="1" height="1" fill="#000"/>
<rect x="294" y="126" width="2" height="1" fill="#000"/>
<rect x="301" y="118" width="3" height="1" fill="#000"/>
<rect x="300" y="119" width="1" height="1" fill="#000"/>
<rect x="304" y="119" width="1" height="1" fill="#000"/>
<rect x="300" y="120" width="1" height="1" fill="#000"/>
<rect x="304" y="120" width="1" height="1" fill="#000"/>
<rect x="304" y="121" width="1" height="1" fill="#000"/>
<rect x="303" y="122" width="1" height="1" fill="#000"/>
<rect x="302" y="123" width="1" height="1" fill="#000"/>
<rect x="301" y="124" width="1" height="1" fill="#000"/>
<rect x="300" y="125" width="1" height="1" fill="#000"/>
<rect x="300" y="126" width="5" height="1" fill="#000"/>
<rect x="324" y="143" width="1" height="1" fill="#000"/>
<rect x="324" y="144" width="1" height="1" fill="#000"/>
<rect x="324" y="145" width="1" height="1" fill="#000"/>
<rect x="324" y="146" width="1" height="1" fill="#000"/>
<rect x="324" y="147" width="1" height="1" fill="#000"/>
<rect x="324" y="148" width="1" height="1" fill="#000"/>
<rect x="324" y="149" width="1" height="1" fill="#000"/>
<rect x="321" y="150" width="1" height="1" fill="#000"/>
<rect x="324" y="150" width="1" height="1" fill="#000"/>
<rect x="321" y="151" width="1" height="1" fill="#000"/>
<rect x="324" y="151" width="1" height="1" fill="#000"/>
<rect x="322" y="152" width="2" height="1" fill="#000"/>
<rect x="329" y="144" width="3" height="1" fill="#000"/>
<rect x="328" y="145" width="1" height="1" fill="#000"/>
<rect x="332" y="145" width="1" height="1" fill="#000"/>
<rect x="328" y="146" width="1" height="1" fill="#000"/>
<rect x="332" y="146" width="1" height="1" fill="#000"/>
<rect x="332" y="147" width="1" height="1" fill="#000"/>
<rect x="330" y="148" width="2" height="1" fill="#000"/>
<rect x="332" y="149" width="1" height="1" fill="#000"/>
<rect x="328" y="150" width="1" height="1" fill="#000"/>
<rect x="332" y="150" width="1" height="1" fill="#000"/>
<rect x="328" y="151" width="1" height="1" fill="#000"/>
<rect x="332" y="151" width="1" height="1" fill="#000"/>
<rect x="329" y="152" width="3" height="1" fill="#000"/>
<rect x="333" y="170" width="1" height="1" fill="#000"/>
<rect x="333" y="171" width="1" height="1" fill="#000"/>
<rect x="333" y="172" width="1" height="1" fill="#000"/>
<rect x="333" y="173" width="1" height="1" fill="#000"/>
<rect x="333" y="174" width="1" height="1" fill="#000"/>
<rect x="333" y="175" width="1" height="1" fill="#000"/>
<rect x="333" y="176" width="1" height="1" fill="#000"/>
<rect x="330" y="177" width="1" height="1" fill="#000"/>
<rect x="333" y="177" width="1" height="1" fill="#000"/>
<rect x="330" y="178" width="1" height="1" fill="#000"/>
<rect x="333" y="178" width="1" height="1" fill="#000"/>
<rect x="331" y="179" width="2" height="1" fill="#000"/>
<rect x="340" y="171" width="1" height="1" fill="#000"/>
<rect x="340" y="172" width="1" height="1" fill="#000"/>
<rect x="339" y="173" width="2" height="1" fill="#000"/>
<rect x="338" y="174" width="1" height="1" fill="#000"/>
<rect x="340" y="174" width="1" height="1" fill="#000"/>
<rect x="338" y="175" width="1" height="1" fill="#000"/>
<rect x="340" y="175" width="1" height="1" fill="#000"/>
<rect x="337" y="176" width="1" height="1" fill="#000"/>
<rect x="340" y="176" width="1" height="1" fill="#000"/>
<rect x="337" y="177" width="5" height="1" fill="#000"/>
<rect x="340" y="178" width="1" height="1" fill="#000"/>
<rect x="340" y="179" width="1" height="1" fill="#000"/>
<rect x="294" y="210" width="1" height="1" fill="#000"/>
<rect x="294" y="211" width="1" height="1" fill="#000"/>
<rect x="294" y="212" width="1" height="1" fill="#000"/>
<rect x="294" y="213" width="1" height="1" fill="#000"/>
<rect x="294" y="214" width="1" height="1" fill="#000"/>
<rect x="294" y="215" width="1" height="1" fill="#000"/>
<rect x="294" y="216" width="1" height="1" fill="#000"/>
<rect x="291" y="217" width="1" height="1" fill="#000"/>
<rect x="294" y="217" width="1" height="1" fill="#000"/>
<rect x="291" y="218" width="1" height="1" fill="#000"/>
<rect x="294" y="218" width="1" height="1" fill="#000"/>
<rect x="292" y="219" width="2" height="1" fill="#000"/>
<rect x="299" y="211" width="4" height="1" fill="#000"/>
<rect x="298" y="212" width="1" height="1" fill="#000"/>
<rect x="298" y="213" width="1" height="1" fill="#000"/>
<rect x="298" y="214" width="4" height="1" fill="#000"/>
<rect x="302" y="215" width="1" height="1" fill="#000"/>
<rect x="302" y="216" width="1" height="1" fill="#000"/>
<rect x="302" y="217" width="1" height="1" fill="#000"/>
<rect x="298" y="218" width="1" height="1" fill="#000"/>
<rect x="302" y="218" width="1" height="1" fill="#000"/>
<rect x="299" y="219" width="3" height="1" fill="#000"/>
<rect x="16" y="254" width="1" height="1" fill="#000"/>
<rect x="16" y="255" width="1" height="1" fill="#000"/>
<rect x="16" y="256" width="1" height="1" fill="#000"/>
<rect x="16" y="257" width="1" height="1" fill="#000"/>
<rect x="16" y="258" width="1" height="1" fill="#000"/>
<rect x="16" y="259" width="1" height="1" fill="#000"/>
<rect x="16" y="260" width="1" height="1" fill="#000"/>
<rect x="13" y="261" width="1" height="1" fill="#000"/>
<rect x="16" y="261" width="1" height="1" fill="#000"/>
<rect x="13" y="262" width="1" height="1" fill="#000"/>
<rect x="16" y="262" width="1" height="1" fill="#000"/>
<rect x="14" y="263" width="2" height="1" fill="#000"/>
<rect x="21" y="254" width="3" height="1" fill="#000"/>
<rect x="20" y="255" width="1" height="1" fill="#000"/>
<rect x="24" y="255" width="1" height="1" fill="#000"/>
<rect x="20" y="256" width="1" height="1" fill="#000"/>
<rect x="20" y="257" width="1" height="1" fill="#000"/>
<rect x="20" y="258" width="1" height="1" fill="#000"/>
<rect x="22" y="258" width="2" height="1" fill="#000"/>
<rect x="20" y="259" width="2" height="1" fill="#000"/>
<rect x="24" y="259" width="1" height="1" fill="#000"/>
<rect x="20" y="260" width="1" height="1" fill="#000"/>
<rect x="24" y="260" width="1" height="1" fill="#000"/>
<rect x="20" y="261" width="1" height="1" fill="#000"/>
<rect x="24" y="261" width="1" height="1" fill="#000"/>
<rect x="20" y="262" width="1" height="1" fill="#000"/>
<rect x="24" y="262" width="1" height="1" fill="#000"/>
<rect x="21" y="263" width="3" height="1" fill="#000"/>
<rect x="100" y="234" width="1" height="1" fill="#000"/>
<rect x="100" y="235" width="1" height="1" fill="#000"/>
<rect x="100" y="236" width="1" height="1" fill="#000"/>
<rect x="100" y="237" width="1" height="1" fill="#000"/>
<rect x="100" y="238" width="1" height="1" fill="#000"/>
<rect x="100" y="239" width="1" height="1" fill="#000"/>
<rect x="100" y="240" width="1" height="1" fill="#000"/>
<rect x="97" y="241" width="1" height="1" fill="#000"/>
<rect x="100" y="241" width="1" height="1" fill="#000"/>
<rect x="97" y="242" width="1" height="1" fill="#000"/>
<rect x="100" y="242" width="1" height="1" fill="#000"/>
<rect x="98" y="243" width="2" height="1" fill="#000"/>
<rect x="105" y="235" width="5" height="1" fill="#000"/>
<rect x="109" y="236" width="1" height="1" fill="#000"/>
<rect x="108" y="237" width="1" height="1" fill="#000"/>
<rect x="107" y="238" width="1" height="1" fill="#000"/>
<rect x="107" y="239" width="1" height="1" fill="#000"/>
<rect x="107" y="240" width="1" height="1" fill="#000"/>
<rect x="106" y="241" width="1" height="1" fill="#000"/>
<rect x="106" y="242" width="1" height="1" fill="#000"/>
<rect x="106" y="243" width="1" height="1" fill="#000"/>
<rect x="102" y="272" width="1" height="1" fill="#000"/>
<rect x="102" y="273" width="1" height="1" fill="#000"/>
<rect x="102" y="274" width="1" height="1" fill="#000"/>
<rect x="102" y="275" width="1" height="1" fill="#000"/>
<rect x="102" y="276" width="1" height="1" fill="#000"/>
<rect x="102" y="277" width="1" height="1" fill="#000"/>
<rect x="102" y="278" width="1" height="1" fill="#000"/>
<rect x="99" y="279" width="1" height="1" fill="#000"/>
<rect x="102" y="279" width="1" height="1" fill="#000"/>
<rect x="99" y="280" width="1" height="1" fill="#000"/>
<rect x="102" y="280" width="1" height="1" fill="#000"/>
<rect x="100" y="281" width="2" height="1" fill="#000"/>
<rect x="107" y="273" width="3" height="1" fill="#000"/>
<rect x="106" y="274" width="1" height="1" fill="#000"/>
<rect x="110" y="274" width="1" height="1" fill="#000"/>
<rect x="106" y="275" width="1" height="1" fill="#000"/>
<rect x="110" y="275" width="1" height="1" fill="#000"/>
<rect x="107" y="276" width="3" height="1" fill="#000"/>
<rect x="106" y="277" width="1" height="1" fill="#000"/>
<rect x="110" y="277" width="1" height="1" fill="#000"/>
<rect x="106" y="278" width="1" height="1" fill="#000"/>
<rect x="110" y="278" width="1" height="1" fill="#000"/>
<rect x="106" y="279" width="1" height="1" fill="#000"/>
<rect x="110" y="279" width="1" height="1" fill="#000"/>
<rect x="106" y="280" width="1" height="1" fill="#000"/>
<rect x="110" y="280" width="1" height="1" fill="#000"/>
<rect x="107" y="281" width="3" height="1" fill="#000"/>
<rect x="762" y="295" width="1" height="1" fill="#000"/>
<rect x="762" y="296" width="1" height="1" fill="#000"/>
<rect x="762" y="297" width="1" height="1" fill="#000"/>
<rect x="762" y="298" width="1" height="1" fill="#000"/>
<rect x="762" y="299" width="1" height="1" fill="#000"/>
<rect x="762" y="300" width="1" height="1" fill="#000"/>
<rect x="762" y="301" width="1" height="1" fill="#000"/>
<rect x="759" y="302" width="1" height="1" fill="#000"/>
<rect x="762" y="302" width="1" height="1" fill="#000"/>
<rect x="759" y="303" width="1" height="1" fill="#000"/>
<rect x="762" y="303" width="1" height="1" fill="#000"/>
<rect x="760" y="304" width="2" height="1" fill="#000"/>
<rect x="768" y="296" width="3" height="1" fill="#000"/>
<rect x="767" y="297" width="1" height="1" fill="#000"/>
<rect x="771" y="297" width="1" height="1" fill="#000"/>
<rect x="767" y="298" width="1" height="1" fill="#000"/>
<rect x="771" y="298" width="1" height="1" fill="#000"/>
<rect x="767" y="299" width="1" height="1" fill="#000"/>
<rect x="771" y="299" width="1" height="1" fill="#000"/>
<rect x="768" y="300" width="4" height="1" fill="#000"/>
<rect x="771" y="301" width="1" height="1" fill="#000"/>
<rect x="771" y="302" width="1" height="1" fill="#000"/>
<rect x="767" y="303" width="1" height="1" fill="#000"/>
<rect x="771" y="303" width="1" height="1" fill="#000"/>
<rect x="768" y="304" width="3" height="1" fill="#000"/>
</svg>
</body></html>
